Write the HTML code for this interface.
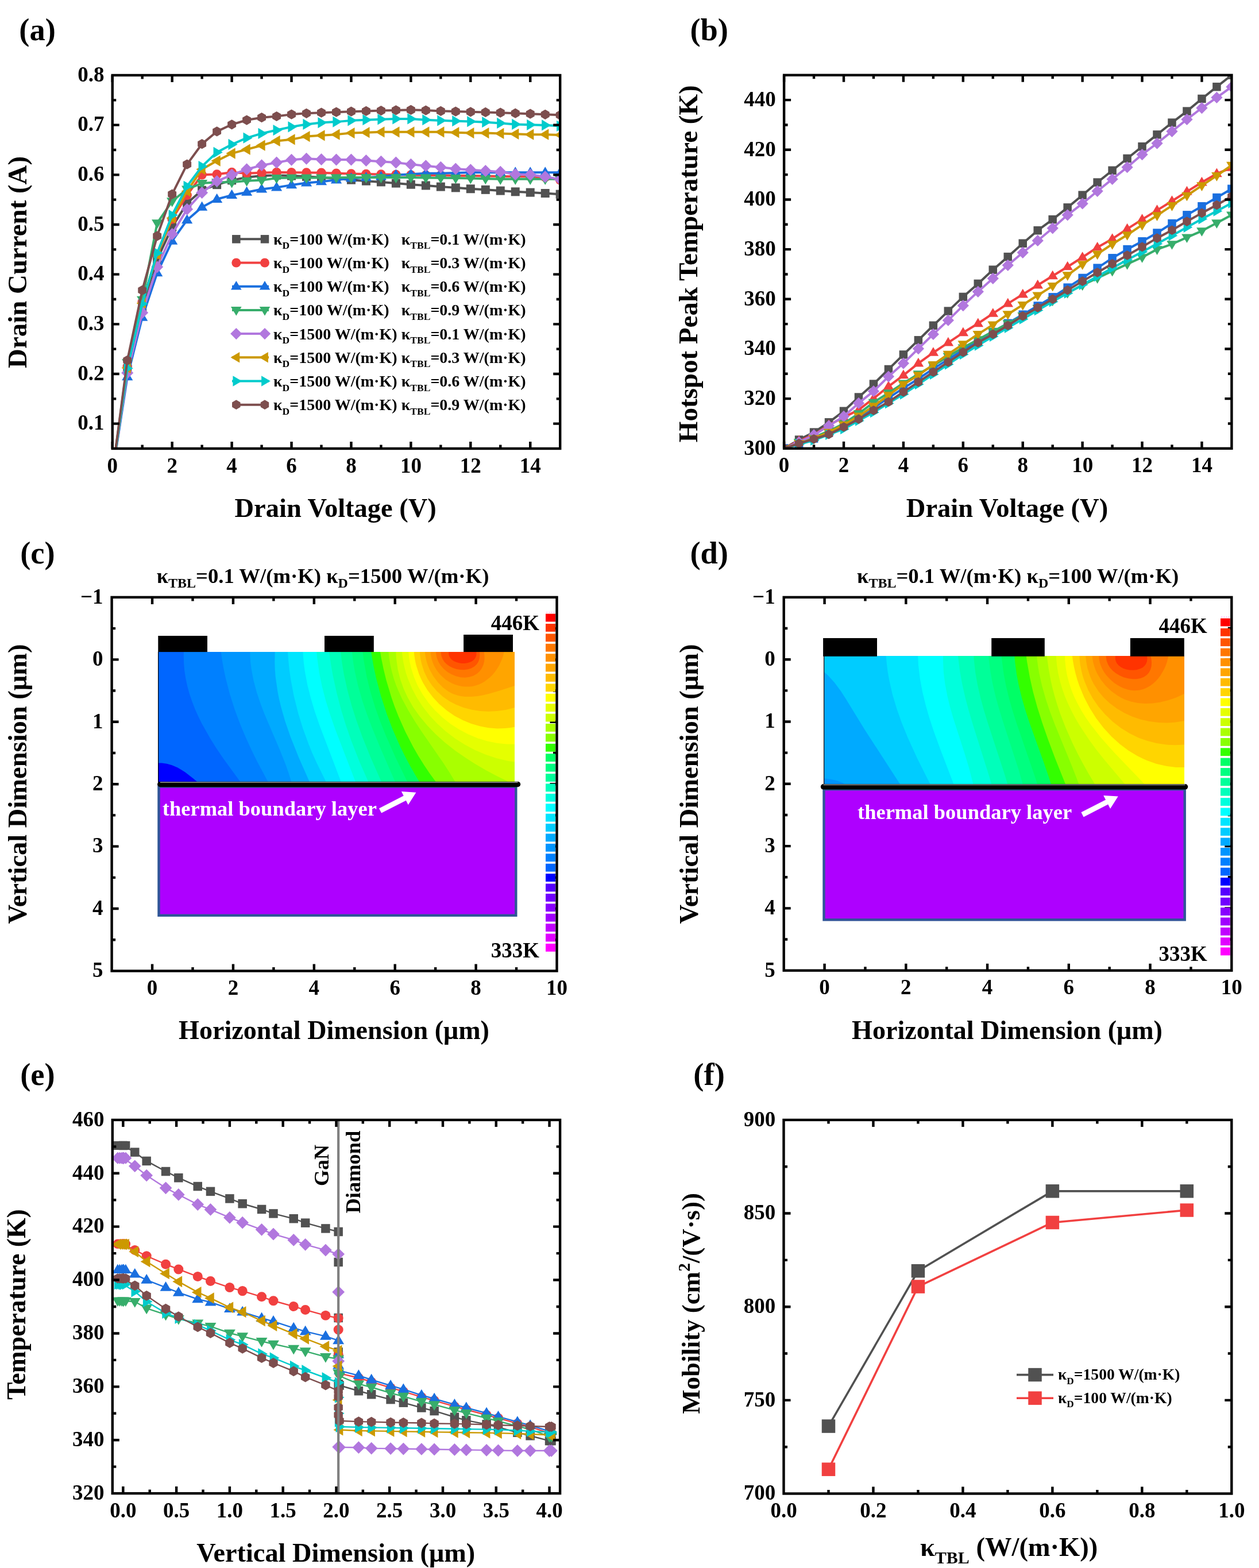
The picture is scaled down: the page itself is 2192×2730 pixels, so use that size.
<!DOCTYPE html><html><head><meta charset="utf-8"><title>Figure</title><style>html,body{margin:0;padding:0;background:#fff;}svg{display:block;}text{font-family:"Liberation Serif","Times New Roman",serif;font-weight:bold;}</style></head><body>
<svg width="2192" height="2730" viewBox="0 0 2192 2730">
<rect width="2192" height="2730" fill="#fff"/>
<clipPath id="clipA"><rect x="195.75" y="131" width="779.45" height="650"/></clipPath>
<g clip-path="url(#clipA)">
<polyline points="195.75,824.33 221.73,642.33 247.71,534 273.69,451.67 299.68,395.33 325.66,353.73 351.64,331.2 377.62,321.67 403.6,313.87 429.59,308.67 455.57,306.07 481.55,305.2 507.53,306.07 533.51,307.37 559.49,309.1 585.48,310.83 611.46,313.17 637.44,315.17 663.42,316.9 689.4,319.07 715.38,321.23 741.37,322.97 767.35,325.13 793.33,326.87 819.31,328.77 845.29,330.33 871.27,332.07 897.25,333.8 923.24,335.1 949.22,336.49 975.2,338.13" fill="none" stroke="#515151" stroke-width="4" stroke-linejoin="round"/>
<rect x="214.23" y="634.83" width="15" height="15" fill="#515151"/><rect x="240.21" y="526.5" width="15" height="15" fill="#515151"/><rect x="266.19" y="444.17" width="15" height="15" fill="#515151"/><rect x="292.18" y="387.83" width="15" height="15" fill="#515151"/><rect x="318.16" y="346.23" width="15" height="15" fill="#515151"/><rect x="344.14" y="323.7" width="15" height="15" fill="#515151"/><rect x="370.12" y="314.17" width="15" height="15" fill="#515151"/><rect x="396.1" y="306.37" width="15" height="15" fill="#515151"/><rect x="422.09" y="301.17" width="15" height="15" fill="#515151"/><rect x="448.07" y="298.57" width="15" height="15" fill="#515151"/><rect x="474.05" y="297.7" width="15" height="15" fill="#515151"/><rect x="500.03" y="298.57" width="15" height="15" fill="#515151"/><rect x="526.01" y="299.87" width="15" height="15" fill="#515151"/><rect x="551.99" y="301.6" width="15" height="15" fill="#515151"/><rect x="577.98" y="303.33" width="15" height="15" fill="#515151"/><rect x="603.96" y="305.67" width="15" height="15" fill="#515151"/><rect x="629.94" y="307.67" width="15" height="15" fill="#515151"/><rect x="655.92" y="309.4" width="15" height="15" fill="#515151"/><rect x="681.9" y="311.57" width="15" height="15" fill="#515151"/><rect x="707.88" y="313.73" width="15" height="15" fill="#515151"/><rect x="733.87" y="315.47" width="15" height="15" fill="#515151"/><rect x="759.85" y="317.63" width="15" height="15" fill="#515151"/><rect x="785.83" y="319.37" width="15" height="15" fill="#515151"/><rect x="811.81" y="321.27" width="15" height="15" fill="#515151"/><rect x="837.79" y="322.83" width="15" height="15" fill="#515151"/><rect x="863.77" y="324.57" width="15" height="15" fill="#515151"/><rect x="889.75" y="326.3" width="15" height="15" fill="#515151"/><rect x="915.74" y="327.6" width="15" height="15" fill="#515151"/><rect x="941.72" y="328.99" width="15" height="15" fill="#515151"/><rect x="967.7" y="330.63" width="15" height="15" fill="#515151"/>
<polyline points="195.75,824.33 221.73,638 247.71,525.33 273.69,443 299.68,381.47 325.66,339.87 351.64,304.33 377.62,303.47 403.6,300 429.59,301.73 455.57,300.87 481.55,300 507.53,300.35 533.51,300.61 559.49,300.87 585.48,301.73 611.46,302.6 637.44,303.03 663.42,303.47 689.4,304.07 715.38,304.68 741.37,304.94 767.35,305.2 793.33,305.63 819.31,306.07 845.29,306.5 871.27,306.93 897.25,307.24 923.24,307.54 949.22,308.67 975.2,313.35" fill="none" stroke="#F14040" stroke-width="4" stroke-linejoin="round"/>
<circle cx="221.73" cy="638" r="8.25" fill="#F14040"/><circle cx="247.71" cy="525.33" r="8.25" fill="#F14040"/><circle cx="273.69" cy="443" r="8.25" fill="#F14040"/><circle cx="299.68" cy="381.47" r="8.25" fill="#F14040"/><circle cx="325.66" cy="339.87" r="8.25" fill="#F14040"/><circle cx="351.64" cy="304.33" r="8.25" fill="#F14040"/><circle cx="377.62" cy="303.47" r="8.25" fill="#F14040"/><circle cx="403.6" cy="300" r="8.25" fill="#F14040"/><circle cx="429.59" cy="301.73" r="8.25" fill="#F14040"/><circle cx="455.57" cy="300.87" r="8.25" fill="#F14040"/><circle cx="481.55" cy="300" r="8.25" fill="#F14040"/><circle cx="507.53" cy="300.35" r="8.25" fill="#F14040"/><circle cx="533.51" cy="300.61" r="8.25" fill="#F14040"/><circle cx="559.49" cy="300.87" r="8.25" fill="#F14040"/><circle cx="585.48" cy="301.73" r="8.25" fill="#F14040"/><circle cx="611.46" cy="302.6" r="8.25" fill="#F14040"/><circle cx="637.44" cy="303.03" r="8.25" fill="#F14040"/><circle cx="663.42" cy="303.47" r="8.25" fill="#F14040"/><circle cx="689.4" cy="304.07" r="8.25" fill="#F14040"/><circle cx="715.38" cy="304.68" r="8.25" fill="#F14040"/><circle cx="741.37" cy="304.94" r="8.25" fill="#F14040"/><circle cx="767.35" cy="305.2" r="8.25" fill="#F14040"/><circle cx="793.33" cy="305.63" r="8.25" fill="#F14040"/><circle cx="819.31" cy="306.07" r="8.25" fill="#F14040"/><circle cx="845.29" cy="306.5" r="8.25" fill="#F14040"/><circle cx="871.27" cy="306.93" r="8.25" fill="#F14040"/><circle cx="897.25" cy="307.24" r="8.25" fill="#F14040"/><circle cx="923.24" cy="307.54" r="8.25" fill="#F14040"/><circle cx="949.22" cy="308.67" r="8.25" fill="#F14040"/><circle cx="975.2" cy="313.35" r="8.25" fill="#F14040"/>
<polyline points="195.75,824.33 221.73,656.2 247.71,552.63 273.69,475.07 299.68,419.6 325.66,383.2 351.64,360.67 377.62,346.8 403.6,339.87 429.59,334.67 455.57,329.47 481.55,326.35 507.53,322.1 533.51,318.55 559.49,316.29 585.48,313.35 611.46,310.49 637.44,309.1 663.42,307.54 689.4,304.68 715.38,303.21 741.37,301.73 767.35,301.73 793.33,301.04 819.31,300.35 845.29,300.35 871.27,300.35 897.25,300.35 923.24,300.35 949.22,300.35 975.2,300.35" fill="none" stroke="#1A6FDF" stroke-width="4" stroke-linejoin="round"/>
<polygon points="221.73,646.08 231.35,662.28 212.11,662.28" fill="#1A6FDF"/><polygon points="247.71,542.51 257.33,558.71 238.09,558.71" fill="#1A6FDF"/><polygon points="273.69,464.94 283.31,481.14 264.08,481.14" fill="#1A6FDF"/><polygon points="299.68,409.47 309.3,425.67 290.06,425.67" fill="#1A6FDF"/><polygon points="325.66,373.07 335.28,389.27 316.04,389.27" fill="#1A6FDF"/><polygon points="351.64,350.54 361.26,366.74 342.02,366.74" fill="#1A6FDF"/><polygon points="377.62,336.68 387.24,352.88 368,352.88" fill="#1A6FDF"/><polygon points="403.6,329.74 413.22,345.94 393.98,345.94" fill="#1A6FDF"/><polygon points="429.59,324.54 439.2,340.74 419.97,340.74" fill="#1A6FDF"/><polygon points="455.57,319.34 465.19,335.54 445.95,335.54" fill="#1A6FDF"/><polygon points="481.55,316.22 491.17,332.42 471.93,332.42" fill="#1A6FDF"/><polygon points="507.53,311.98 517.15,328.18 497.91,328.18" fill="#1A6FDF"/><polygon points="533.51,308.42 543.13,324.62 523.89,324.62" fill="#1A6FDF"/><polygon points="559.49,306.17 569.11,322.37 549.87,322.37" fill="#1A6FDF"/><polygon points="585.48,303.22 595.09,319.42 575.86,319.42" fill="#1A6FDF"/><polygon points="611.46,300.36 621.08,316.56 601.84,316.56" fill="#1A6FDF"/><polygon points="637.44,298.97 647.06,315.17 627.82,315.17" fill="#1A6FDF"/><polygon points="663.42,297.41 673.04,313.61 653.8,313.61" fill="#1A6FDF"/><polygon points="689.4,294.56 699.02,310.75 679.78,310.75" fill="#1A6FDF"/><polygon points="715.38,293.08 725,309.28 705.76,309.28" fill="#1A6FDF"/><polygon points="741.37,291.61 750.98,307.81 731.75,307.81" fill="#1A6FDF"/><polygon points="767.35,291.61 776.97,307.81 757.73,307.81" fill="#1A6FDF"/><polygon points="793.33,290.92 802.95,307.12 783.71,307.12" fill="#1A6FDF"/><polygon points="819.31,290.22 828.93,306.42 809.69,306.42" fill="#1A6FDF"/><polygon points="845.29,290.22 854.91,306.42 835.67,306.42" fill="#1A6FDF"/><polygon points="871.27,290.22 880.89,306.42 861.65,306.42" fill="#1A6FDF"/><polygon points="897.25,290.22 906.87,306.42 887.64,306.42" fill="#1A6FDF"/><polygon points="923.24,290.22 932.86,306.42 913.62,306.42" fill="#1A6FDF"/><polygon points="949.22,290.22 958.84,306.42 939.6,306.42" fill="#1A6FDF"/><polygon points="975.2,290.22 984.82,306.42 965.58,306.42" fill="#1A6FDF"/>
<polyline points="195.75,824.33 221.73,631.41 247.71,521.87 273.69,388.4 299.68,350.27 325.66,329.47 351.64,319.07 377.62,317.33 403.6,317.33 429.59,314.73 455.57,313.87 481.55,309.97 507.53,309.53 533.51,309.53 559.49,309.53 585.48,309.32 611.46,309.1 637.44,309.1 663.42,309.1 689.4,309.1 715.38,309.1 741.37,309.43 767.35,309.75 793.33,310.08 819.31,310.4 845.29,311.14 871.27,311.87 897.25,311.87 923.24,311.87 949.22,311.87 975.2,311.87" fill="none" stroke="#37AD6B" stroke-width="4" stroke-linejoin="round"/>
<polygon points="221.73,641.54 231.35,625.34 212.11,625.34" fill="#37AD6B"/><polygon points="247.71,531.99 257.33,515.79 238.09,515.79" fill="#37AD6B"/><polygon points="273.69,398.53 283.31,382.33 264.08,382.33" fill="#37AD6B"/><polygon points="299.68,360.39 309.3,344.19 290.06,344.19" fill="#37AD6B"/><polygon points="325.66,339.59 335.28,323.39 316.04,323.39" fill="#37AD6B"/><polygon points="351.64,329.19 361.26,312.99 342.02,312.99" fill="#37AD6B"/><polygon points="377.62,327.46 387.24,311.26 368,311.26" fill="#37AD6B"/><polygon points="403.6,327.46 413.22,311.26 393.98,311.26" fill="#37AD6B"/><polygon points="429.59,324.86 439.2,308.66 419.97,308.66" fill="#37AD6B"/><polygon points="455.57,323.99 465.19,307.79 445.95,307.79" fill="#37AD6B"/><polygon points="481.55,320.09 491.17,303.89 471.93,303.89" fill="#37AD6B"/><polygon points="507.53,319.66 517.15,303.46 497.91,303.46" fill="#37AD6B"/><polygon points="533.51,319.66 543.13,303.46 523.89,303.46" fill="#37AD6B"/><polygon points="559.49,319.66 569.11,303.46 549.87,303.46" fill="#37AD6B"/><polygon points="585.48,319.44 595.09,303.24 575.86,303.24" fill="#37AD6B"/><polygon points="611.46,319.22 621.08,303.02 601.84,303.02" fill="#37AD6B"/><polygon points="637.44,319.22 647.06,303.02 627.82,303.02" fill="#37AD6B"/><polygon points="663.42,319.22 673.04,303.02 653.8,303.02" fill="#37AD6B"/><polygon points="689.4,319.22 699.02,303.02 679.78,303.02" fill="#37AD6B"/><polygon points="715.38,319.22 725,303.02 705.76,303.02" fill="#37AD6B"/><polygon points="741.37,319.55 750.98,303.35 731.75,303.35" fill="#37AD6B"/><polygon points="767.35,319.88 776.97,303.68 757.73,303.68" fill="#37AD6B"/><polygon points="793.33,320.2 802.95,304 783.71,304" fill="#37AD6B"/><polygon points="819.31,320.53 828.93,304.33 809.69,304.33" fill="#37AD6B"/><polygon points="845.29,321.26 854.91,305.06 835.67,305.06" fill="#37AD6B"/><polygon points="871.27,322 880.89,305.8 861.65,305.8" fill="#37AD6B"/><polygon points="897.25,322 906.87,305.8 887.64,305.8" fill="#37AD6B"/><polygon points="923.24,322 932.86,305.8 913.62,305.8" fill="#37AD6B"/><polygon points="949.22,322 958.84,305.8 939.6,305.8" fill="#37AD6B"/><polygon points="975.2,322 984.82,305.8 965.58,305.8" fill="#37AD6B"/>
<polyline points="195.75,824.33 221.73,649.35 247.71,544.4 273.69,464.67 299.68,407.47 325.66,364.13 351.64,335.53 377.62,315.6 403.6,304.33 429.59,294.8 455.57,287.87 481.55,283.1 507.53,278.33 533.51,276.17 559.49,277.47 585.48,277.9 611.46,277.9 637.44,279.46 663.42,281.28 689.4,283.1 715.38,286.13 741.37,288.73 767.35,291.33 793.33,293.93 819.31,295.67 845.29,297.4 871.27,299.13 897.25,303.47 923.24,304.33 949.22,307.8 975.2,312.13" fill="none" stroke="#B177DE" stroke-width="4" stroke-linejoin="round"/>
<polygon points="221.73,638.85 232.23,649.35 221.73,659.85 211.23,649.35" fill="#B177DE"/><polygon points="247.71,533.9 258.21,544.4 247.71,554.9 237.21,544.4" fill="#B177DE"/><polygon points="273.69,454.17 284.19,464.67 273.69,475.17 263.19,464.67" fill="#B177DE"/><polygon points="299.68,396.97 310.18,407.47 299.68,417.97 289.18,407.47" fill="#B177DE"/><polygon points="325.66,353.63 336.16,364.13 325.66,374.63 315.16,364.13" fill="#B177DE"/><polygon points="351.64,325.03 362.14,335.53 351.64,346.03 341.14,335.53" fill="#B177DE"/><polygon points="377.62,305.1 388.12,315.6 377.62,326.1 367.12,315.6" fill="#B177DE"/><polygon points="403.6,293.83 414.1,304.33 403.6,314.83 393.1,304.33" fill="#B177DE"/><polygon points="429.59,284.3 440.09,294.8 429.59,305.3 419.09,294.8" fill="#B177DE"/><polygon points="455.57,277.37 466.07,287.87 455.57,298.37 445.07,287.87" fill="#B177DE"/><polygon points="481.55,272.6 492.05,283.1 481.55,293.6 471.05,283.1" fill="#B177DE"/><polygon points="507.53,267.83 518.03,278.33 507.53,288.83 497.03,278.33" fill="#B177DE"/><polygon points="533.51,265.67 544.01,276.17 533.51,286.67 523.01,276.17" fill="#B177DE"/><polygon points="559.49,266.97 569.99,277.47 559.49,287.97 548.99,277.47" fill="#B177DE"/><polygon points="585.48,267.4 595.98,277.9 585.48,288.4 574.98,277.9" fill="#B177DE"/><polygon points="611.46,267.4 621.96,277.9 611.46,288.4 600.96,277.9" fill="#B177DE"/><polygon points="637.44,268.96 647.94,279.46 637.44,289.96 626.94,279.46" fill="#B177DE"/><polygon points="663.42,270.78 673.92,281.28 663.42,291.78 652.92,281.28" fill="#B177DE"/><polygon points="689.4,272.6 699.9,283.1 689.4,293.6 678.9,283.1" fill="#B177DE"/><polygon points="715.38,275.63 725.88,286.13 715.38,296.63 704.88,286.13" fill="#B177DE"/><polygon points="741.37,278.23 751.87,288.73 741.37,299.23 730.87,288.73" fill="#B177DE"/><polygon points="767.35,280.83 777.85,291.33 767.35,301.83 756.85,291.33" fill="#B177DE"/><polygon points="793.33,283.43 803.83,293.93 793.33,304.43 782.83,293.93" fill="#B177DE"/><polygon points="819.31,285.17 829.81,295.67 819.31,306.17 808.81,295.67" fill="#B177DE"/><polygon points="845.29,286.9 855.79,297.4 845.29,307.9 834.79,297.4" fill="#B177DE"/><polygon points="871.27,288.63 881.77,299.13 871.27,309.63 860.77,299.13" fill="#B177DE"/><polygon points="897.25,292.97 907.75,303.47 897.25,313.97 886.75,303.47" fill="#B177DE"/><polygon points="923.24,293.83 933.74,304.33 923.24,314.83 912.74,304.33" fill="#B177DE"/><polygon points="949.22,297.3 959.72,307.8 949.22,318.3 938.72,307.8" fill="#B177DE"/><polygon points="975.2,301.63 985.7,312.13 975.2,322.63 964.7,312.13" fill="#B177DE"/>
<polyline points="195.75,824.33 221.73,640.6 247.71,527.93 273.69,443 299.68,379.73 325.66,332.93 351.64,294.8 377.62,280.07 403.6,267.07 429.59,260.13 455.57,253.2 481.55,245.4 507.53,242.8 533.51,237.6 559.49,235.87 585.48,234.13 611.46,231.53 637.44,230.67 663.42,229.8 689.4,229.8 715.38,229.8 741.37,229.8 767.35,229.8 793.33,230.67 819.31,231.53 845.29,231.53 871.27,232.4 897.25,233.27 923.24,234.13 949.22,234.13 975.2,235" fill="none" stroke="#CC9900" stroke-width="4" stroke-linejoin="round"/>
<polygon points="211.61,640.6 227.81,630.98 227.81,650.22" fill="#CC9900"/><polygon points="237.59,527.93 253.79,518.31 253.79,537.55" fill="#CC9900"/><polygon points="263.57,443 279.77,433.38 279.77,452.62" fill="#CC9900"/><polygon points="289.55,379.73 305.75,370.11 305.75,389.35" fill="#CC9900"/><polygon points="315.53,332.93 331.73,323.31 331.73,342.55" fill="#CC9900"/><polygon points="341.51,294.8 357.71,285.18 357.71,304.42" fill="#CC9900"/><polygon points="367.5,280.07 383.7,270.45 383.7,289.69" fill="#CC9900"/><polygon points="393.48,267.07 409.68,257.45 409.68,276.69" fill="#CC9900"/><polygon points="419.46,260.13 435.66,250.51 435.66,269.75" fill="#CC9900"/><polygon points="445.44,253.2 461.64,243.58 461.64,262.82" fill="#CC9900"/><polygon points="471.42,245.4 487.62,235.78 487.62,255.02" fill="#CC9900"/><polygon points="497.41,242.8 513.61,233.18 513.61,252.42" fill="#CC9900"/><polygon points="523.39,237.6 539.59,227.98 539.59,247.22" fill="#CC9900"/><polygon points="549.37,235.87 565.57,226.25 565.57,245.49" fill="#CC9900"/><polygon points="575.35,234.13 591.55,224.51 591.55,243.75" fill="#CC9900"/><polygon points="601.33,231.53 617.53,221.91 617.53,241.15" fill="#CC9900"/><polygon points="627.31,230.67 643.51,221.05 643.51,240.29" fill="#CC9900"/><polygon points="653.3,229.8 669.5,220.18 669.5,239.42" fill="#CC9900"/><polygon points="679.28,229.8 695.48,220.18 695.48,239.42" fill="#CC9900"/><polygon points="705.26,229.8 721.46,220.18 721.46,239.42" fill="#CC9900"/><polygon points="731.24,229.8 747.44,220.18 747.44,239.42" fill="#CC9900"/><polygon points="757.22,229.8 773.42,220.18 773.42,239.42" fill="#CC9900"/><polygon points="783.2,230.67 799.4,221.05 799.4,240.29" fill="#CC9900"/><polygon points="809.19,231.53 825.39,221.91 825.39,241.15" fill="#CC9900"/><polygon points="835.17,231.53 851.37,221.91 851.37,241.15" fill="#CC9900"/><polygon points="861.15,232.4 877.35,222.78 877.35,242.02" fill="#CC9900"/><polygon points="887.13,233.27 903.33,223.65 903.33,242.89" fill="#CC9900"/><polygon points="913.11,234.13 929.31,224.51 929.31,243.75" fill="#CC9900"/><polygon points="939.09,234.13 955.29,224.51 955.29,243.75" fill="#CC9900"/><polygon points="965.08,235 981.28,225.38 981.28,244.62" fill="#CC9900"/>
<polyline points="195.75,824.33 221.73,641.21 247.71,528.8 273.69,440.4 299.68,374.53 325.66,324.27 351.64,289.6 377.62,265.33 403.6,251.47 429.59,240.2 455.57,232.4 481.55,226.51 507.53,220.87 533.51,216.45 559.49,213.51 585.48,212.12 611.46,209.87 637.44,208.65 663.42,207.79 689.4,206.92 715.38,206.92 741.37,208.65 767.35,209.87 793.33,210.65 819.31,211.6 845.29,212.73 871.27,214.46 897.25,216.45 923.24,217.32 949.22,217.93 975.2,219.31" fill="none" stroke="#00CBCC" stroke-width="4" stroke-linejoin="round"/>
<polygon points="231.86,641.21 215.66,631.59 215.66,650.83" fill="#00CBCC"/><polygon points="257.84,528.8 241.64,519.18 241.64,538.42" fill="#00CBCC"/><polygon points="283.82,440.4 267.62,430.78 267.62,450.02" fill="#00CBCC"/><polygon points="309.8,374.53 293.6,364.91 293.6,384.15" fill="#00CBCC"/><polygon points="335.78,324.27 319.58,314.65 319.58,333.89" fill="#00CBCC"/><polygon points="361.76,289.6 345.56,279.98 345.56,299.22" fill="#00CBCC"/><polygon points="387.75,265.33 371.55,255.71 371.55,274.95" fill="#00CBCC"/><polygon points="413.73,251.47 397.53,241.85 397.53,261.09" fill="#00CBCC"/><polygon points="439.71,240.2 423.51,230.58 423.51,249.82" fill="#00CBCC"/><polygon points="465.69,232.4 449.49,222.78 449.49,242.02" fill="#00CBCC"/><polygon points="491.67,226.51 475.47,216.89 475.47,236.13" fill="#00CBCC"/><polygon points="517.65,220.87 501.46,211.25 501.46,230.49" fill="#00CBCC"/><polygon points="543.64,216.45 527.44,206.83 527.44,226.07" fill="#00CBCC"/><polygon points="569.62,213.51 553.42,203.89 553.42,223.13" fill="#00CBCC"/><polygon points="595.6,212.12 579.4,202.5 579.4,221.74" fill="#00CBCC"/><polygon points="621.58,209.87 605.38,200.25 605.38,219.49" fill="#00CBCC"/><polygon points="647.56,208.65 631.36,199.03 631.36,218.27" fill="#00CBCC"/><polygon points="673.55,207.79 657.35,198.17 657.35,217.41" fill="#00CBCC"/><polygon points="699.53,206.92 683.33,197.3 683.33,216.54" fill="#00CBCC"/><polygon points="725.51,206.92 709.31,197.3 709.31,216.54" fill="#00CBCC"/><polygon points="751.49,208.65 735.29,199.03 735.29,218.27" fill="#00CBCC"/><polygon points="777.47,209.87 761.27,200.25 761.27,219.49" fill="#00CBCC"/><polygon points="803.45,210.65 787.25,201.03 787.25,220.27" fill="#00CBCC"/><polygon points="829.44,211.6 813.24,201.98 813.24,221.22" fill="#00CBCC"/><polygon points="855.42,212.73 839.22,203.11 839.22,222.35" fill="#00CBCC"/><polygon points="881.4,214.46 865.2,204.84 865.2,224.08" fill="#00CBCC"/><polygon points="907.38,216.45 891.18,206.83 891.18,226.07" fill="#00CBCC"/><polygon points="933.36,217.32 917.16,207.7 917.16,226.94" fill="#00CBCC"/><polygon points="959.34,217.93 943.14,208.31 943.14,227.55" fill="#00CBCC"/><polygon points="985.33,219.31 969.12,209.69 969.12,228.93" fill="#00CBCC"/>
<polyline points="195.75,824.33 221.73,627.43 247.71,505.4 273.69,410.93 299.68,338.13 325.66,286.13 351.64,250.6 377.62,228.93 403.6,216.8 429.59,209 455.57,204.67 481.55,202.5 507.53,199.12 533.51,197.3 559.49,196.17 585.48,195.13 611.46,194.18 637.44,193.4 663.42,192.53 689.4,191.93 715.38,191.32 741.37,192.1 767.35,193.31 793.33,194.09 819.31,194.79 845.29,195.48 871.27,196.17 897.25,197.21 923.24,198.17 949.22,199.29 975.2,200.33" fill="none" stroke="#7D4E4E" stroke-width="4" stroke-linejoin="round"/>
<polygon points="229.2,631.74 221.73,636.05 214.26,631.74 214.26,623.11 221.73,618.8 229.2,623.11" fill="#7D4E4E"/><polygon points="255.18,509.71 247.71,514.02 240.24,509.71 240.24,501.09 247.71,496.77 255.18,501.09" fill="#7D4E4E"/><polygon points="281.16,415.25 273.69,419.56 266.23,415.25 266.23,406.62 273.69,402.31 281.16,406.62" fill="#7D4E4E"/><polygon points="307.15,342.45 299.68,346.76 292.21,342.45 292.21,333.82 299.68,329.51 307.15,333.82" fill="#7D4E4E"/><polygon points="333.13,290.45 325.66,294.76 318.19,290.45 318.19,281.82 325.66,277.51 333.13,281.82" fill="#7D4E4E"/><polygon points="359.11,254.91 351.64,259.23 344.17,254.91 344.17,246.29 351.64,241.98 359.11,246.29" fill="#7D4E4E"/><polygon points="385.09,233.25 377.62,237.56 370.15,233.25 370.15,224.62 377.62,220.31 385.09,224.62" fill="#7D4E4E"/><polygon points="411.07,221.11 403.6,225.43 396.13,221.11 396.13,212.49 403.6,208.18 411.07,212.49" fill="#7D4E4E"/><polygon points="437.05,213.31 429.59,217.63 422.12,213.31 422.12,204.69 429.59,200.38 437.05,204.69" fill="#7D4E4E"/><polygon points="463.04,208.98 455.57,213.29 448.1,208.98 448.1,200.35 455.57,196.04 463.04,200.35" fill="#7D4E4E"/><polygon points="489.02,206.81 481.55,211.12 474.08,206.81 474.08,198.19 481.55,193.88 489.02,198.19" fill="#7D4E4E"/><polygon points="515,203.43 507.53,207.75 500.06,203.43 500.06,194.81 507.53,190.5 515,194.81" fill="#7D4E4E"/><polygon points="540.98,201.61 533.51,205.93 526.04,201.61 526.04,192.99 533.51,188.68 540.98,192.99" fill="#7D4E4E"/><polygon points="566.96,200.49 559.49,204.8 552.02,200.49 552.02,191.86 559.49,187.55 566.96,191.86" fill="#7D4E4E"/><polygon points="592.94,199.45 585.48,203.76 578.01,199.45 578.01,190.82 585.48,186.51 592.94,190.82" fill="#7D4E4E"/><polygon points="618.93,198.49 611.46,202.81 603.99,198.49 603.99,189.87 611.46,185.56 618.93,189.87" fill="#7D4E4E"/><polygon points="644.91,197.71 637.44,202.03 629.97,197.71 629.97,189.09 637.44,184.78 644.91,189.09" fill="#7D4E4E"/><polygon points="670.89,196.85 663.42,201.16 655.95,196.85 655.95,188.22 663.42,183.91 670.89,188.22" fill="#7D4E4E"/><polygon points="696.87,196.24 689.4,200.55 681.93,196.24 681.93,187.61 689.4,183.3 696.87,187.61" fill="#7D4E4E"/><polygon points="722.85,195.63 715.38,199.95 707.91,195.63 707.91,187.01 715.38,182.7 722.85,187.01" fill="#7D4E4E"/><polygon points="748.83,196.41 741.37,200.73 733.9,196.41 733.9,187.79 741.37,183.48 748.83,187.79" fill="#7D4E4E"/><polygon points="774.82,197.63 767.35,201.94 759.88,197.63 759.88,189 767.35,184.69 774.82,189" fill="#7D4E4E"/><polygon points="800.8,198.41 793.33,202.72 785.86,198.41 785.86,189.78 793.33,185.47 800.8,189.78" fill="#7D4E4E"/><polygon points="826.78,199.1 819.31,203.41 811.84,199.1 811.84,190.47 819.31,186.16 826.78,190.47" fill="#7D4E4E"/><polygon points="852.76,199.79 845.29,204.11 837.82,199.79 837.82,191.17 845.29,186.86 852.76,191.17" fill="#7D4E4E"/><polygon points="878.74,200.49 871.27,204.8 863.8,200.49 863.8,191.86 871.27,187.55 878.74,191.86" fill="#7D4E4E"/><polygon points="904.72,201.53 897.25,205.84 889.79,201.53 889.79,192.9 897.25,188.59 904.72,192.9" fill="#7D4E4E"/><polygon points="930.71,202.48 923.24,206.79 915.77,202.48 915.77,193.85 923.24,189.54 930.71,193.85" fill="#7D4E4E"/><polygon points="956.69,203.61 949.22,207.92 941.75,203.61 941.75,194.98 949.22,190.67 956.69,194.98" fill="#7D4E4E"/><polygon points="982.67,204.65 975.2,208.96 967.73,204.65 967.73,196.02 975.2,191.71 982.67,196.02" fill="#7D4E4E"/>
</g>
<rect x="195.75" y="131" width="779.45" height="650" fill="none" stroke="#000" stroke-width="4.4"/>
<path d="M195.75 781V769M195.75 131V143M299.68 781V769M299.68 131V143M403.6 781V769M403.6 131V143M507.53 781V769M507.53 131V143M611.46 781V769M611.46 131V143M715.38 781V769M715.38 131V143M819.31 781V769M819.31 131V143M923.24 781V769M923.24 131V143M247.71 781V774.5M247.71 131V137.5M351.64 781V774.5M351.64 131V137.5M455.57 781V774.5M455.57 131V137.5M559.49 781V774.5M559.49 131V137.5M663.42 781V774.5M663.42 131V137.5M767.35 781V774.5M767.35 131V137.5M871.27 781V774.5M871.27 131V137.5M195.75 737.67H207.75M975.2 737.67H963.2M195.75 651H207.75M975.2 651H963.2M195.75 564.33H207.75M975.2 564.33H963.2M195.75 477.67H207.75M975.2 477.67H963.2M195.75 391H207.75M975.2 391H963.2M195.75 304.33H207.75M975.2 304.33H963.2M195.75 217.67H207.75M975.2 217.67H963.2M195.75 694.33H202.25M975.2 694.33H968.7M195.75 607.67H202.25M975.2 607.67H968.7M195.75 521H202.25M975.2 521H968.7M195.75 434.33H202.25M975.2 434.33H968.7M195.75 347.67H202.25M975.2 347.67H968.7M195.75 261H202.25M975.2 261H968.7M195.75 174.33H202.25M975.2 174.33H968.7" stroke="#000" stroke-width="4.4" fill="none"/>
<text x="195.75" y="822.5" font-size="37" text-anchor="middle">0</text>
<text x="299.68" y="822.5" font-size="37" text-anchor="middle">2</text>
<text x="403.6" y="822.5" font-size="37" text-anchor="middle">4</text>
<text x="507.53" y="822.5" font-size="37" text-anchor="middle">6</text>
<text x="611.46" y="822.5" font-size="37" text-anchor="middle">8</text>
<text x="715.38" y="822.5" font-size="37" text-anchor="middle">10</text>
<text x="819.31" y="822.5" font-size="37" text-anchor="middle">12</text>
<text x="923.24" y="822.5" font-size="37" text-anchor="middle">14</text>
<text x="181.45" y="748.47" font-size="37" text-anchor="end">0.1</text>
<text x="181.45" y="661.8" font-size="37" text-anchor="end">0.2</text>
<text x="181.45" y="575.13" font-size="37" text-anchor="end">0.3</text>
<text x="181.45" y="488.47" font-size="37" text-anchor="end">0.4</text>
<text x="181.45" y="401.8" font-size="37" text-anchor="end">0.5</text>
<text x="181.45" y="315.13" font-size="37" text-anchor="end">0.6</text>
<text x="181.45" y="228.47" font-size="37" text-anchor="end">0.7</text>
<text x="181.45" y="141.8" font-size="37" text-anchor="end">0.8</text>
<text x="584.2" y="899.5" font-size="46.5" text-anchor="middle">Drain Voltage (V)</text>
<text x="45.6" y="456.4" font-size="46.9" text-anchor="middle" transform="rotate(-90 45.6 456.4)">Drain Current (A)</text>
<text x="65.1" y="70.4" font-size="54.5" text-anchor="middle">(a)</text>
<line x1="404" y1="416.3" x2="468" y2="416.3" stroke="#515151" stroke-width="4"/>
<rect x="404.05" y="409.05" width="14.5" height="14.5" fill="#515151"/><rect x="453.75" y="409.05" width="14.5" height="14.5" fill="#515151"/>
<text x="476" y="425.7" font-size="28">κ<tspan font-size="17.5" dy="7.7">D</tspan><tspan dy="-7.7">=100 W/(m·K)</tspan></text>
<text x="698.8" y="425.7" font-size="28">κ<tspan font-size="17.5" dy="7.7">TBL</tspan><tspan dy="-7.7">=0.1 W/(m·K)</tspan></text>
<line x1="404" y1="457.5" x2="468" y2="457.5" stroke="#F14040" stroke-width="4"/>
<circle cx="411.3" cy="457.5" r="7.98" fill="#F14040"/><circle cx="461" cy="457.5" r="7.98" fill="#F14040"/>
<text x="476" y="466.9" font-size="28">κ<tspan font-size="17.5" dy="7.7">D</tspan><tspan dy="-7.7">=100 W/(m·K)</tspan></text>
<text x="698.8" y="466.9" font-size="28">κ<tspan font-size="17.5" dy="7.7">TBL</tspan><tspan dy="-7.7">=0.3 W/(m·K)</tspan></text>
<line x1="404" y1="498.7" x2="468" y2="498.7" stroke="#1A6FDF" stroke-width="4"/>
<polygon points="411.3,488.91 420.6,504.57 402,504.57" fill="#1A6FDF"/><polygon points="461,488.91 470.3,504.57 451.7,504.57" fill="#1A6FDF"/>
<text x="476" y="508.1" font-size="28">κ<tspan font-size="17.5" dy="7.7">D</tspan><tspan dy="-7.7">=100 W/(m·K)</tspan></text>
<text x="698.8" y="508.1" font-size="28">κ<tspan font-size="17.5" dy="7.7">TBL</tspan><tspan dy="-7.7">=0.6 W/(m·K)</tspan></text>
<line x1="404" y1="539.9" x2="468" y2="539.9" stroke="#37AD6B" stroke-width="4"/>
<polygon points="411.3,549.69 420.6,534.03 402,534.03" fill="#37AD6B"/><polygon points="461,549.69 470.3,534.03 451.7,534.03" fill="#37AD6B"/>
<text x="476" y="549.3" font-size="28">κ<tspan font-size="17.5" dy="7.7">D</tspan><tspan dy="-7.7">=100 W/(m·K)</tspan></text>
<text x="698.8" y="549.3" font-size="28">κ<tspan font-size="17.5" dy="7.7">TBL</tspan><tspan dy="-7.7">=0.9 W/(m·K)</tspan></text>
<line x1="404" y1="581.1" x2="468" y2="581.1" stroke="#B177DE" stroke-width="4"/>
<polygon points="411.3,570.95 421.45,581.1 411.3,591.25 401.15,581.1" fill="#B177DE"/><polygon points="461,570.95 471.15,581.1 461,591.25 450.85,581.1" fill="#B177DE"/>
<text x="476" y="590.5" font-size="28">κ<tspan font-size="17.5" dy="7.7">D</tspan><tspan dy="-7.7">=1500 W/(m·K)</tspan></text>
<text x="698.8" y="590.5" font-size="28">κ<tspan font-size="17.5" dy="7.7">TBL</tspan><tspan dy="-7.7">=0.1 W/(m·K)</tspan></text>
<line x1="404" y1="622.3" x2="468" y2="622.3" stroke="#CC9900" stroke-width="4"/>
<polygon points="401.51,622.3 417.17,613 417.17,631.6" fill="#CC9900"/><polygon points="451.21,622.3 466.87,613 466.87,631.6" fill="#CC9900"/>
<text x="476" y="631.7" font-size="28">κ<tspan font-size="17.5" dy="7.7">D</tspan><tspan dy="-7.7">=1500 W/(m·K)</tspan></text>
<text x="698.8" y="631.7" font-size="28">κ<tspan font-size="17.5" dy="7.7">TBL</tspan><tspan dy="-7.7">=0.3 W/(m·K)</tspan></text>
<line x1="404" y1="663.5" x2="468" y2="663.5" stroke="#00CBCC" stroke-width="4"/>
<polygon points="421.09,663.5 405.43,654.2 405.43,672.8" fill="#00CBCC"/><polygon points="470.79,663.5 455.13,654.2 455.13,672.8" fill="#00CBCC"/>
<text x="476" y="672.9" font-size="28">κ<tspan font-size="17.5" dy="7.7">D</tspan><tspan dy="-7.7">=1500 W/(m·K)</tspan></text>
<text x="698.8" y="672.9" font-size="28">κ<tspan font-size="17.5" dy="7.7">TBL</tspan><tspan dy="-7.7">=0.6 W/(m·K)</tspan></text>
<line x1="404" y1="704.7" x2="468" y2="704.7" stroke="#7D4E4E" stroke-width="4"/>
<polygon points="418.52,708.87 411.3,713.04 404.08,708.87 404.08,700.53 411.3,696.36 418.52,700.53" fill="#7D4E4E"/><polygon points="468.22,708.87 461,713.04 453.78,708.87 453.78,700.53 461,696.36 468.22,700.53" fill="#7D4E4E"/>
<text x="476" y="714.1" font-size="28">κ<tspan font-size="17.5" dy="7.7">D</tspan><tspan dy="-7.7">=1500 W/(m·K)</tspan></text>
<text x="698.8" y="714.1" font-size="28">κ<tspan font-size="17.5" dy="7.7">TBL</tspan><tspan dy="-7.7">=0.9 W/(m·K)</tspan></text>
<clipPath id="clipB"><rect x="1365.1" y="130.8" width="779.3" height="650"/></clipPath>
<g clip-path="url(#clipB)">
<polyline points="1365.1,780.8 1391.08,765.63 1417.05,752.63 1443.03,735.3 1469.01,715.8 1494.98,691.53 1520.96,668.57 1546.94,643 1572.91,617.43 1598.89,592.3 1624.87,566.73 1650.84,541.6 1676.82,516.9 1702.8,493.93 1728.77,469.67 1754.75,447.13 1780.73,423.73 1806.7,401.2 1832.68,382.13 1858.66,361.33 1884.63,339.67 1910.61,317.57 1936.59,296.77 1962.56,275.97 1988.54,255.17 2014.52,234.37 2040.49,213.57 2066.47,193.63 2092.45,171.97 2118.42,151.17 2144.4,130.8" fill="none" stroke="#515151" stroke-width="4" stroke-linejoin="round"/>
<rect x="1357.85" y="773.55" width="14.5" height="14.5" fill="#515151"/><rect x="1383.83" y="758.38" width="14.5" height="14.5" fill="#515151"/><rect x="1409.8" y="745.38" width="14.5" height="14.5" fill="#515151"/><rect x="1435.78" y="728.05" width="14.5" height="14.5" fill="#515151"/><rect x="1461.76" y="708.55" width="14.5" height="14.5" fill="#515151"/><rect x="1487.73" y="684.28" width="14.5" height="14.5" fill="#515151"/><rect x="1513.71" y="661.32" width="14.5" height="14.5" fill="#515151"/><rect x="1539.69" y="635.75" width="14.5" height="14.5" fill="#515151"/><rect x="1565.66" y="610.18" width="14.5" height="14.5" fill="#515151"/><rect x="1591.64" y="585.05" width="14.5" height="14.5" fill="#515151"/><rect x="1617.62" y="559.48" width="14.5" height="14.5" fill="#515151"/><rect x="1643.59" y="534.35" width="14.5" height="14.5" fill="#515151"/><rect x="1669.57" y="509.65" width="14.5" height="14.5" fill="#515151"/><rect x="1695.55" y="486.68" width="14.5" height="14.5" fill="#515151"/><rect x="1721.52" y="462.42" width="14.5" height="14.5" fill="#515151"/><rect x="1747.5" y="439.88" width="14.5" height="14.5" fill="#515151"/><rect x="1773.48" y="416.48" width="14.5" height="14.5" fill="#515151"/><rect x="1799.45" y="393.95" width="14.5" height="14.5" fill="#515151"/><rect x="1825.43" y="374.88" width="14.5" height="14.5" fill="#515151"/><rect x="1851.41" y="354.08" width="14.5" height="14.5" fill="#515151"/><rect x="1877.38" y="332.42" width="14.5" height="14.5" fill="#515151"/><rect x="1903.36" y="310.32" width="14.5" height="14.5" fill="#515151"/><rect x="1929.34" y="289.52" width="14.5" height="14.5" fill="#515151"/><rect x="1955.31" y="268.72" width="14.5" height="14.5" fill="#515151"/><rect x="1981.29" y="247.92" width="14.5" height="14.5" fill="#515151"/><rect x="2007.27" y="227.12" width="14.5" height="14.5" fill="#515151"/><rect x="2033.24" y="206.32" width="14.5" height="14.5" fill="#515151"/><rect x="2059.22" y="186.38" width="14.5" height="14.5" fill="#515151"/><rect x="2085.2" y="164.72" width="14.5" height="14.5" fill="#515151"/><rect x="2111.17" y="143.92" width="14.5" height="14.5" fill="#515151"/><rect x="2137.15" y="123.55" width="14.5" height="14.5" fill="#515151"/>
<polyline points="1365.1,780.8 1391.08,767.8 1417.05,756.97 1443.03,740.07 1469.01,726.63 1494.98,713.63 1520.96,693.7 1546.94,672.9 1572.91,653.4 1598.89,632.6 1624.87,613.97 1650.84,596.63 1676.82,579.3 1702.8,563.27 1728.77,545.93 1754.75,528.6 1780.73,512.57 1806.7,496.53 1832.68,480.5 1858.66,464.47 1884.63,448 1910.61,430.67 1936.59,415.93 1962.56,398.6 1988.54,382.13 2014.52,366.1 2040.49,350.07 2066.47,333.6 2092.45,317.57 2118.42,302.4 2144.4,292" fill="none" stroke="#F14040" stroke-width="4" stroke-linejoin="round"/>
<polygon points="1365.1,771.01 1374.4,786.67 1355.8,786.67" fill="#F14040"/><polygon points="1391.08,758.01 1400.37,773.67 1381.78,773.67" fill="#F14040"/><polygon points="1417.05,747.18 1426.35,762.84 1407.76,762.84" fill="#F14040"/><polygon points="1443.03,730.28 1452.33,745.94 1433.73,745.94" fill="#F14040"/><polygon points="1469.01,716.85 1478.3,732.51 1459.71,732.51" fill="#F14040"/><polygon points="1494.98,703.85 1504.28,719.51 1485.69,719.51" fill="#F14040"/><polygon points="1520.96,683.91 1530.26,699.57 1511.66,699.57" fill="#F14040"/><polygon points="1546.94,663.11 1556.23,678.77 1537.64,678.77" fill="#F14040"/><polygon points="1572.91,643.61 1582.21,659.27 1563.62,659.27" fill="#F14040"/><polygon points="1598.89,622.81 1608.19,638.47 1589.59,638.47" fill="#F14040"/><polygon points="1624.87,604.18 1634.16,619.84 1615.57,619.84" fill="#F14040"/><polygon points="1650.84,586.85 1660.14,602.51 1641.55,602.51" fill="#F14040"/><polygon points="1676.82,569.51 1686.12,585.17 1667.52,585.17" fill="#F14040"/><polygon points="1702.8,553.48 1712.09,569.14 1693.5,569.14" fill="#F14040"/><polygon points="1728.77,536.15 1738.07,551.81 1719.48,551.81" fill="#F14040"/><polygon points="1754.75,518.81 1764.05,534.47 1745.45,534.47" fill="#F14040"/><polygon points="1780.73,502.78 1790.02,518.44 1771.43,518.44" fill="#F14040"/><polygon points="1806.7,486.75 1816,502.41 1797.41,502.41" fill="#F14040"/><polygon points="1832.68,470.71 1841.98,486.37 1823.38,486.37" fill="#F14040"/><polygon points="1858.66,454.68 1867.95,470.34 1849.36,470.34" fill="#F14040"/><polygon points="1884.63,438.21 1893.93,453.87 1875.34,453.87" fill="#F14040"/><polygon points="1910.61,420.88 1919.91,436.54 1901.31,436.54" fill="#F14040"/><polygon points="1936.59,406.15 1945.88,421.81 1927.29,421.81" fill="#F14040"/><polygon points="1962.56,388.81 1971.86,404.47 1953.27,404.47" fill="#F14040"/><polygon points="1988.54,372.35 1997.84,388.01 1979.24,388.01" fill="#F14040"/><polygon points="2014.52,356.31 2023.81,371.97 2005.22,371.97" fill="#F14040"/><polygon points="2040.49,340.28 2049.79,355.94 2031.2,355.94" fill="#F14040"/><polygon points="2066.47,323.81 2075.77,339.47 2057.17,339.47" fill="#F14040"/><polygon points="2092.45,307.78 2101.74,323.44 2083.15,323.44" fill="#F14040"/><polygon points="2118.42,292.61 2127.72,308.27 2109.13,308.27" fill="#F14040"/><polygon points="2144.4,282.21 2153.7,297.87 2135.1,297.87" fill="#F14040"/>
<polyline points="1365.1,780.8 1391.08,772.13 1417.05,763.47 1443.03,753.5 1469.01,741.8 1494.98,726.63 1520.96,710.17 1546.94,692.83 1572.91,675.93 1598.89,659.47 1624.87,642.13 1650.84,625.67 1676.82,609.2 1702.8,593.6 1728.77,578 1754.75,562.83 1780.73,547.67 1806.7,532.5 1832.68,517.33 1858.66,500.65 1884.63,483.97 1910.61,466.63 1936.59,449.3 1962.56,434.13 1988.54,420.27 2014.52,405.53 2040.49,389.07 2066.47,374.33 2092.45,359.17 2118.42,344 2144.4,328.83" fill="none" stroke="#1A6FDF" stroke-width="4" stroke-linejoin="round"/>
<rect x="1357.85" y="773.55" width="14.5" height="14.5" fill="#1A6FDF"/><rect x="1383.83" y="764.88" width="14.5" height="14.5" fill="#1A6FDF"/><rect x="1409.8" y="756.22" width="14.5" height="14.5" fill="#1A6FDF"/><rect x="1435.78" y="746.25" width="14.5" height="14.5" fill="#1A6FDF"/><rect x="1461.76" y="734.55" width="14.5" height="14.5" fill="#1A6FDF"/><rect x="1487.73" y="719.38" width="14.5" height="14.5" fill="#1A6FDF"/><rect x="1513.71" y="702.92" width="14.5" height="14.5" fill="#1A6FDF"/><rect x="1539.69" y="685.58" width="14.5" height="14.5" fill="#1A6FDF"/><rect x="1565.66" y="668.68" width="14.5" height="14.5" fill="#1A6FDF"/><rect x="1591.64" y="652.22" width="14.5" height="14.5" fill="#1A6FDF"/><rect x="1617.62" y="634.88" width="14.5" height="14.5" fill="#1A6FDF"/><rect x="1643.59" y="618.42" width="14.5" height="14.5" fill="#1A6FDF"/><rect x="1669.57" y="601.95" width="14.5" height="14.5" fill="#1A6FDF"/><rect x="1695.55" y="586.35" width="14.5" height="14.5" fill="#1A6FDF"/><rect x="1721.52" y="570.75" width="14.5" height="14.5" fill="#1A6FDF"/><rect x="1747.5" y="555.58" width="14.5" height="14.5" fill="#1A6FDF"/><rect x="1773.48" y="540.42" width="14.5" height="14.5" fill="#1A6FDF"/><rect x="1799.45" y="525.25" width="14.5" height="14.5" fill="#1A6FDF"/><rect x="1825.43" y="510.08" width="14.5" height="14.5" fill="#1A6FDF"/><rect x="1851.41" y="493.4" width="14.5" height="14.5" fill="#1A6FDF"/><rect x="1877.38" y="476.72" width="14.5" height="14.5" fill="#1A6FDF"/><rect x="1903.36" y="459.38" width="14.5" height="14.5" fill="#1A6FDF"/><rect x="1929.34" y="442.05" width="14.5" height="14.5" fill="#1A6FDF"/><rect x="1955.31" y="426.88" width="14.5" height="14.5" fill="#1A6FDF"/><rect x="1981.29" y="413.02" width="14.5" height="14.5" fill="#1A6FDF"/><rect x="2007.27" y="398.28" width="14.5" height="14.5" fill="#1A6FDF"/><rect x="2033.24" y="381.82" width="14.5" height="14.5" fill="#1A6FDF"/><rect x="2059.22" y="367.08" width="14.5" height="14.5" fill="#1A6FDF"/><rect x="2085.2" y="351.92" width="14.5" height="14.5" fill="#1A6FDF"/><rect x="2111.17" y="336.75" width="14.5" height="14.5" fill="#1A6FDF"/><rect x="2137.15" y="321.58" width="14.5" height="14.5" fill="#1A6FDF"/>
<polyline points="1365.1,780.8 1391.08,769.97 1417.05,761.3 1443.03,750.47 1469.01,737.47 1494.98,720.13 1520.96,700.63 1546.94,684.17 1572.91,667.27 1598.89,651.23 1624.87,636.5 1650.84,620.47 1676.82,605.3 1702.8,591.22 1728.77,577.13 1754.75,563.48 1780.73,549.83 1806.7,536.62 1832.68,523.4 1858.66,509.97 1884.63,496.53 1910.61,484.18 1936.59,471.83 1962.56,459.92 1988.54,448 2014.52,434.13 2040.49,425.03 2066.47,413.33 2092.45,402.07 2118.42,388.2 2144.4,374.33" fill="none" stroke="#37AD6B" stroke-width="4" stroke-linejoin="round"/>
<polygon points="1365.1,790.59 1374.4,774.93 1355.8,774.93" fill="#37AD6B"/><polygon points="1391.08,779.75 1400.37,764.09 1381.78,764.09" fill="#37AD6B"/><polygon points="1417.05,771.09 1426.35,755.43 1407.76,755.43" fill="#37AD6B"/><polygon points="1443.03,760.25 1452.33,744.59 1433.73,744.59" fill="#37AD6B"/><polygon points="1469.01,747.25 1478.3,731.59 1459.71,731.59" fill="#37AD6B"/><polygon points="1494.98,729.92 1504.28,714.26 1485.69,714.26" fill="#37AD6B"/><polygon points="1520.96,710.42 1530.26,694.76 1511.66,694.76" fill="#37AD6B"/><polygon points="1546.94,693.95 1556.23,678.29 1537.64,678.29" fill="#37AD6B"/><polygon points="1572.91,677.05 1582.21,661.39 1563.62,661.39" fill="#37AD6B"/><polygon points="1598.89,661.02 1608.19,645.36 1589.59,645.36" fill="#37AD6B"/><polygon points="1624.87,646.29 1634.16,630.63 1615.57,630.63" fill="#37AD6B"/><polygon points="1650.84,630.25 1660.14,614.59 1641.55,614.59" fill="#37AD6B"/><polygon points="1676.82,615.09 1686.12,599.43 1667.52,599.43" fill="#37AD6B"/><polygon points="1702.8,601 1712.09,585.34 1693.5,585.34" fill="#37AD6B"/><polygon points="1728.77,586.92 1738.07,571.26 1719.48,571.26" fill="#37AD6B"/><polygon points="1754.75,573.27 1764.05,557.61 1745.45,557.61" fill="#37AD6B"/><polygon points="1780.73,559.62 1790.02,543.96 1771.43,543.96" fill="#37AD6B"/><polygon points="1806.7,546.4 1816,530.74 1797.41,530.74" fill="#37AD6B"/><polygon points="1832.68,533.19 1841.98,517.53 1823.38,517.53" fill="#37AD6B"/><polygon points="1858.66,519.75 1867.95,504.09 1849.36,504.09" fill="#37AD6B"/><polygon points="1884.63,506.32 1893.93,490.66 1875.34,490.66" fill="#37AD6B"/><polygon points="1910.61,493.97 1919.91,478.31 1901.31,478.31" fill="#37AD6B"/><polygon points="1936.59,481.62 1945.88,465.96 1927.29,465.96" fill="#37AD6B"/><polygon points="1962.56,469.7 1971.86,454.04 1953.27,454.04" fill="#37AD6B"/><polygon points="1988.54,457.79 1997.84,442.13 1979.24,442.13" fill="#37AD6B"/><polygon points="2014.52,443.92 2023.81,428.26 2005.22,428.26" fill="#37AD6B"/><polygon points="2040.49,434.82 2049.79,419.16 2031.2,419.16" fill="#37AD6B"/><polygon points="2066.47,423.12 2075.77,407.46 2057.17,407.46" fill="#37AD6B"/><polygon points="2092.45,411.85 2101.74,396.19 2083.15,396.19" fill="#37AD6B"/><polygon points="2118.42,397.99 2127.72,382.33 2109.13,382.33" fill="#37AD6B"/><polygon points="2144.4,384.12 2153.7,368.46 2135.1,368.46" fill="#37AD6B"/>
<polyline points="1365.1,780.8 1391.08,769.97 1417.05,757.4 1443.03,741.37 1469.01,724.9 1494.98,701.93 1520.96,681.13 1546.94,655.57 1572.91,632.6 1598.89,607.03 1624.87,581.9 1650.84,557.63 1676.82,532.07 1702.8,507.8 1728.77,484.83 1754.75,461.87 1780.73,439.77 1806.7,418.97 1832.68,397.3 1858.66,374.33 1884.63,354.4 1910.61,332.73 1936.59,311.93 1962.56,291.13 1988.54,269.03 2014.52,249.53 2040.49,228.73 2066.47,207.93 2092.45,188 2118.42,169.8 2144.4,151.17" fill="none" stroke="#B177DE" stroke-width="4" stroke-linejoin="round"/>
<polygon points="1365.1,770.65 1375.25,780.8 1365.1,790.95 1354.95,780.8" fill="#B177DE"/><polygon points="1391.08,759.82 1401.23,769.97 1391.08,780.12 1380.93,769.97" fill="#B177DE"/><polygon points="1417.05,747.25 1427.2,757.4 1417.05,767.55 1406.9,757.4" fill="#B177DE"/><polygon points="1443.03,731.22 1453.18,741.37 1443.03,751.52 1432.88,741.37" fill="#B177DE"/><polygon points="1469.01,714.75 1479.16,724.9 1469.01,735.05 1458.86,724.9" fill="#B177DE"/><polygon points="1494.98,691.78 1505.13,701.93 1494.98,712.08 1484.83,701.93" fill="#B177DE"/><polygon points="1520.96,670.98 1531.11,681.13 1520.96,691.28 1510.81,681.13" fill="#B177DE"/><polygon points="1546.94,645.42 1557.09,655.57 1546.94,665.72 1536.79,655.57" fill="#B177DE"/><polygon points="1572.91,622.45 1583.06,632.6 1572.91,642.75 1562.76,632.6" fill="#B177DE"/><polygon points="1598.89,596.88 1609.04,607.03 1598.89,617.18 1588.74,607.03" fill="#B177DE"/><polygon points="1624.87,571.75 1635.02,581.9 1624.87,592.05 1614.72,581.9" fill="#B177DE"/><polygon points="1650.84,547.48 1660.99,557.63 1650.84,567.78 1640.69,557.63" fill="#B177DE"/><polygon points="1676.82,521.92 1686.97,532.07 1676.82,542.22 1666.67,532.07" fill="#B177DE"/><polygon points="1702.8,497.65 1712.95,507.8 1702.8,517.95 1692.65,507.8" fill="#B177DE"/><polygon points="1728.77,474.68 1738.92,484.83 1728.77,494.98 1718.62,484.83" fill="#B177DE"/><polygon points="1754.75,451.72 1764.9,461.87 1754.75,472.02 1744.6,461.87" fill="#B177DE"/><polygon points="1780.73,429.62 1790.88,439.77 1780.73,449.92 1770.58,439.77" fill="#B177DE"/><polygon points="1806.7,408.82 1816.85,418.97 1806.7,429.12 1796.55,418.97" fill="#B177DE"/><polygon points="1832.68,387.15 1842.83,397.3 1832.68,407.45 1822.53,397.3" fill="#B177DE"/><polygon points="1858.66,364.18 1868.81,374.33 1858.66,384.48 1848.51,374.33" fill="#B177DE"/><polygon points="1884.63,344.25 1894.78,354.4 1884.63,364.55 1874.48,354.4" fill="#B177DE"/><polygon points="1910.61,322.58 1920.76,332.73 1910.61,342.88 1900.46,332.73" fill="#B177DE"/><polygon points="1936.59,301.78 1946.74,311.93 1936.59,322.08 1926.44,311.93" fill="#B177DE"/><polygon points="1962.56,280.98 1972.71,291.13 1962.56,301.28 1952.41,291.13" fill="#B177DE"/><polygon points="1988.54,258.88 1998.69,269.03 1988.54,279.18 1978.39,269.03" fill="#B177DE"/><polygon points="2014.52,239.38 2024.67,249.53 2014.52,259.68 2004.37,249.53" fill="#B177DE"/><polygon points="2040.49,218.58 2050.64,228.73 2040.49,238.88 2030.34,228.73" fill="#B177DE"/><polygon points="2066.47,197.78 2076.62,207.93 2066.47,218.08 2056.32,207.93" fill="#B177DE"/><polygon points="2092.45,177.85 2102.6,188 2092.45,198.15 2082.3,188" fill="#B177DE"/><polygon points="2118.42,159.65 2128.57,169.8 2118.42,179.95 2108.27,169.8" fill="#B177DE"/><polygon points="2144.4,141.02 2154.55,151.17 2144.4,161.32 2134.25,151.17" fill="#B177DE"/>
<polyline points="1365.1,780.8 1391.08,772.13 1417.05,763.47 1443.03,752.63 1469.01,739.63 1494.98,724.47 1520.96,707.13 1546.94,688.07 1572.91,669.43 1598.89,653.4 1624.87,634.77 1650.84,616.57 1676.82,599.23 1702.8,581.9 1728.77,565.43 1754.75,547.23 1780.73,530.77 1806.7,514.3 1832.68,497.83 1858.66,479.2 1884.63,460.13 1910.61,442.37 1936.59,425.03 1962.56,409 1988.54,391.67 2014.52,375.2 2040.49,357.87 2066.47,340.53 2092.45,323.2 2118.42,305.87 2144.4,287.67" fill="none" stroke="#CC9900" stroke-width="4" stroke-linejoin="round"/>
<polygon points="1365.1,790.59 1374.4,774.93 1355.8,774.93" fill="#CC9900"/><polygon points="1391.08,781.92 1400.37,766.26 1381.78,766.26" fill="#CC9900"/><polygon points="1417.05,773.25 1426.35,757.59 1407.76,757.59" fill="#CC9900"/><polygon points="1443.03,762.42 1452.33,746.76 1433.73,746.76" fill="#CC9900"/><polygon points="1469.01,749.42 1478.3,733.76 1459.71,733.76" fill="#CC9900"/><polygon points="1494.98,734.25 1504.28,718.59 1485.69,718.59" fill="#CC9900"/><polygon points="1520.96,716.92 1530.26,701.26 1511.66,701.26" fill="#CC9900"/><polygon points="1546.94,697.85 1556.23,682.19 1537.64,682.19" fill="#CC9900"/><polygon points="1572.91,679.22 1582.21,663.56 1563.62,663.56" fill="#CC9900"/><polygon points="1598.89,663.19 1608.19,647.53 1589.59,647.53" fill="#CC9900"/><polygon points="1624.87,644.55 1634.16,628.89 1615.57,628.89" fill="#CC9900"/><polygon points="1650.84,626.35 1660.14,610.69 1641.55,610.69" fill="#CC9900"/><polygon points="1676.82,609.02 1686.12,593.36 1667.52,593.36" fill="#CC9900"/><polygon points="1702.8,591.69 1712.09,576.03 1693.5,576.03" fill="#CC9900"/><polygon points="1728.77,575.22 1738.07,559.56 1719.48,559.56" fill="#CC9900"/><polygon points="1754.75,557.02 1764.05,541.36 1745.45,541.36" fill="#CC9900"/><polygon points="1780.73,540.55 1790.02,524.89 1771.43,524.89" fill="#CC9900"/><polygon points="1806.7,524.09 1816,508.43 1797.41,508.43" fill="#CC9900"/><polygon points="1832.68,507.62 1841.98,491.96 1823.38,491.96" fill="#CC9900"/><polygon points="1858.66,488.99 1867.95,473.33 1849.36,473.33" fill="#CC9900"/><polygon points="1884.63,469.92 1893.93,454.26 1875.34,454.26" fill="#CC9900"/><polygon points="1910.61,452.15 1919.91,436.49 1901.31,436.49" fill="#CC9900"/><polygon points="1936.59,434.82 1945.88,419.16 1927.29,419.16" fill="#CC9900"/><polygon points="1962.56,418.79 1971.86,403.13 1953.27,403.13" fill="#CC9900"/><polygon points="1988.54,401.45 1997.84,385.79 1979.24,385.79" fill="#CC9900"/><polygon points="2014.52,384.99 2023.81,369.33 2005.22,369.33" fill="#CC9900"/><polygon points="2040.49,367.65 2049.79,351.99 2031.2,351.99" fill="#CC9900"/><polygon points="2066.47,350.32 2075.77,334.66 2057.17,334.66" fill="#CC9900"/><polygon points="2092.45,332.99 2101.74,317.33 2083.15,317.33" fill="#CC9900"/><polygon points="2118.42,315.65 2127.72,299.99 2109.13,299.99" fill="#CC9900"/><polygon points="2144.4,297.45 2153.7,281.79 2135.1,281.79" fill="#CC9900"/>
<polyline points="1365.1,780.8 1391.08,773.65 1417.05,766.5 1443.03,756.75 1469.01,747 1494.98,732.48 1520.96,717.97 1546.94,702.15 1572.91,686.33 1598.89,669 1624.87,651.67 1650.84,634.33 1676.82,617 1702.8,601.4 1728.77,585.8 1754.75,570.63 1780.73,555.47 1806.7,540.3 1832.68,525.13 1858.66,510.4 1884.63,495.67 1910.61,481.15 1936.59,466.63 1962.56,452.55 1988.54,438.47 2014.52,424.38 2040.49,410.3 2066.47,395.78 2092.45,381.27 2118.42,367.4 2144.4,353.53" fill="none" stroke="#00CBCC" stroke-width="4" stroke-linejoin="round"/>
<polygon points="1374.89,780.8 1359.23,771.5 1359.23,790.1" fill="#00CBCC"/><polygon points="1400.86,773.65 1385.2,764.35 1385.2,782.95" fill="#00CBCC"/><polygon points="1426.84,766.5 1411.18,757.2 1411.18,775.8" fill="#00CBCC"/><polygon points="1452.82,756.75 1437.16,747.45 1437.16,766.05" fill="#00CBCC"/><polygon points="1478.79,747 1463.13,737.7 1463.13,756.3" fill="#00CBCC"/><polygon points="1504.77,732.48 1489.11,723.19 1489.11,741.78" fill="#00CBCC"/><polygon points="1530.75,717.97 1515.09,708.67 1515.09,727.26" fill="#00CBCC"/><polygon points="1556.72,702.15 1541.06,692.85 1541.06,711.45" fill="#00CBCC"/><polygon points="1582.7,686.33 1567.04,677.04 1567.04,695.63" fill="#00CBCC"/><polygon points="1608.68,669 1593.02,659.7 1593.02,678.3" fill="#00CBCC"/><polygon points="1634.65,651.67 1618.99,642.37 1618.99,660.96" fill="#00CBCC"/><polygon points="1660.63,634.33 1644.97,625.04 1644.97,643.63" fill="#00CBCC"/><polygon points="1686.61,617 1670.95,607.7 1670.95,626.3" fill="#00CBCC"/><polygon points="1712.58,601.4 1696.92,592.1 1696.92,610.7" fill="#00CBCC"/><polygon points="1738.56,585.8 1722.9,576.5 1722.9,595.1" fill="#00CBCC"/><polygon points="1764.54,570.63 1748.88,561.34 1748.88,579.93" fill="#00CBCC"/><polygon points="1790.51,555.47 1774.85,546.17 1774.85,564.76" fill="#00CBCC"/><polygon points="1816.49,540.3 1800.83,531 1800.83,549.6" fill="#00CBCC"/><polygon points="1842.47,525.13 1826.81,515.84 1826.81,534.43" fill="#00CBCC"/><polygon points="1868.44,510.4 1852.78,501.1 1852.78,519.7" fill="#00CBCC"/><polygon points="1894.42,495.67 1878.76,486.37 1878.76,504.96" fill="#00CBCC"/><polygon points="1920.4,481.15 1904.74,471.85 1904.74,490.45" fill="#00CBCC"/><polygon points="1946.37,466.63 1930.71,457.34 1930.71,475.93" fill="#00CBCC"/><polygon points="1972.35,452.55 1956.69,443.25 1956.69,461.85" fill="#00CBCC"/><polygon points="1998.33,438.47 1982.67,429.17 1982.67,447.76" fill="#00CBCC"/><polygon points="2024.3,424.38 2008.64,415.09 2008.64,433.68" fill="#00CBCC"/><polygon points="2050.28,410.3 2034.62,401 2034.62,419.6" fill="#00CBCC"/><polygon points="2076.26,395.78 2060.6,386.49 2060.6,405.08" fill="#00CBCC"/><polygon points="2102.23,381.27 2086.57,371.97 2086.57,390.56" fill="#00CBCC"/><polygon points="2128.21,367.4 2112.55,358.1 2112.55,376.7" fill="#00CBCC"/><polygon points="2154.19,353.53 2138.53,344.24 2138.53,362.83" fill="#00CBCC"/>
<polyline points="1365.1,780.8 1391.08,772.13 1417.05,764.33 1443.03,756.1 1469.01,743.53 1494.98,729.67 1520.96,714.5 1546.94,699.77 1572.91,682.43 1598.89,665.1 1624.87,647.77 1650.84,630.43 1676.82,613.1 1702.8,596.63 1728.77,581.9 1754.75,566.73 1780.73,550.27 1806.7,535.53 1832.68,520.8 1858.66,505.2 1884.63,489.6 1910.61,474.43 1936.59,459.27 1962.56,444.53 1988.54,429.8 2014.52,414.63 2040.49,400.77 2066.47,385.6 2092.45,370.87 2118.42,357 2144.4,341.83" fill="none" stroke="#7D4E4E" stroke-width="4" stroke-linejoin="round"/>
<polygon points="1372.32,784.97 1365.1,789.14 1357.88,784.97 1357.88,776.63 1365.1,772.46 1372.32,776.63" fill="#7D4E4E"/><polygon points="1398.3,776.3 1391.08,780.47 1383.86,776.3 1383.86,767.96 1391.08,763.8 1398.3,767.96" fill="#7D4E4E"/><polygon points="1424.27,768.5 1417.05,772.67 1409.83,768.5 1409.83,760.16 1417.05,756 1424.27,760.16" fill="#7D4E4E"/><polygon points="1450.25,760.27 1443.03,764.44 1435.81,760.27 1435.81,751.93 1443.03,747.76 1450.25,751.93" fill="#7D4E4E"/><polygon points="1476.23,747.7 1469.01,751.87 1461.79,747.7 1461.79,739.36 1469.01,735.2 1476.23,739.36" fill="#7D4E4E"/><polygon points="1502.2,733.84 1494.98,738 1487.76,733.84 1487.76,725.5 1494.98,721.33 1502.2,725.5" fill="#7D4E4E"/><polygon points="1528.18,718.67 1520.96,722.84 1513.74,718.67 1513.74,710.33 1520.96,706.16 1528.18,710.33" fill="#7D4E4E"/><polygon points="1554.16,703.94 1546.94,708.1 1539.72,703.94 1539.72,695.6 1546.94,691.43 1554.16,695.6" fill="#7D4E4E"/><polygon points="1580.13,686.6 1572.91,690.77 1565.69,686.6 1565.69,678.26 1572.91,674.1 1580.13,678.26" fill="#7D4E4E"/><polygon points="1606.11,669.27 1598.89,673.44 1591.67,669.27 1591.67,660.93 1598.89,656.76 1606.11,660.93" fill="#7D4E4E"/><polygon points="1632.09,651.94 1624.87,656.1 1617.65,651.94 1617.65,643.6 1624.87,639.43 1632.09,643.6" fill="#7D4E4E"/><polygon points="1658.06,634.6 1650.84,638.77 1643.62,634.6 1643.62,626.26 1650.84,622.1 1658.06,626.26" fill="#7D4E4E"/><polygon points="1684.04,617.27 1676.82,621.44 1669.6,617.27 1669.6,608.93 1676.82,604.76 1684.04,608.93" fill="#7D4E4E"/><polygon points="1710.02,600.8 1702.8,604.97 1695.58,600.8 1695.58,592.46 1702.8,588.3 1710.02,592.46" fill="#7D4E4E"/><polygon points="1735.99,586.07 1728.77,590.24 1721.55,586.07 1721.55,577.73 1728.77,573.56 1735.99,577.73" fill="#7D4E4E"/><polygon points="1761.97,570.9 1754.75,575.07 1747.53,570.9 1747.53,562.56 1754.75,558.4 1761.97,562.56" fill="#7D4E4E"/><polygon points="1787.95,554.44 1780.73,558.6 1773.51,554.44 1773.51,546.1 1780.73,541.93 1787.95,546.1" fill="#7D4E4E"/><polygon points="1813.92,539.7 1806.7,543.87 1799.48,539.7 1799.48,531.36 1806.7,527.2 1813.92,531.36" fill="#7D4E4E"/><polygon points="1839.9,524.97 1832.68,529.14 1825.46,524.97 1825.46,516.63 1832.68,512.46 1839.9,516.63" fill="#7D4E4E"/><polygon points="1865.88,509.37 1858.66,513.54 1851.44,509.37 1851.44,501.03 1858.66,496.86 1865.88,501.03" fill="#7D4E4E"/><polygon points="1891.85,493.77 1884.63,497.94 1877.41,493.77 1877.41,485.43 1884.63,481.26 1891.85,485.43" fill="#7D4E4E"/><polygon points="1917.83,478.6 1910.61,482.77 1903.39,478.6 1903.39,470.26 1910.61,466.1 1917.83,470.26" fill="#7D4E4E"/><polygon points="1943.81,463.44 1936.59,467.6 1929.37,463.44 1929.37,455.1 1936.59,450.93 1943.81,455.1" fill="#7D4E4E"/><polygon points="1969.78,448.7 1962.56,452.87 1955.34,448.7 1955.34,440.36 1962.56,436.2 1969.78,440.36" fill="#7D4E4E"/><polygon points="1995.76,433.97 1988.54,438.14 1981.32,433.97 1981.32,425.63 1988.54,421.46 1995.76,425.63" fill="#7D4E4E"/><polygon points="2021.74,418.8 2014.52,422.97 2007.3,418.8 2007.3,410.46 2014.52,406.3 2021.74,410.46" fill="#7D4E4E"/><polygon points="2047.71,404.94 2040.49,409.1 2033.27,404.94 2033.27,396.6 2040.49,392.43 2047.71,396.6" fill="#7D4E4E"/><polygon points="2073.69,389.77 2066.47,393.94 2059.25,389.77 2059.25,381.43 2066.47,377.26 2073.69,381.43" fill="#7D4E4E"/><polygon points="2099.67,375.04 2092.45,379.2 2085.23,375.04 2085.23,366.7 2092.45,362.53 2099.67,366.7" fill="#7D4E4E"/><polygon points="2125.64,361.17 2118.42,365.34 2111.2,361.17 2111.2,352.83 2118.42,348.66 2125.64,352.83" fill="#7D4E4E"/><polygon points="2151.62,346 2144.4,350.17 2137.18,346 2137.18,337.66 2144.4,333.5 2151.62,337.66" fill="#7D4E4E"/>
</g>
<rect x="1365.1" y="130.8" width="779.3" height="650" fill="none" stroke="#000" stroke-width="4.4"/>
<path d="M1365.1 780.8V768.8M1365.1 130.8V142.8M1469.01 780.8V768.8M1469.01 130.8V142.8M1572.91 780.8V768.8M1572.91 130.8V142.8M1676.82 780.8V768.8M1676.82 130.8V142.8M1780.73 780.8V768.8M1780.73 130.8V142.8M1884.63 780.8V768.8M1884.63 130.8V142.8M1988.54 780.8V768.8M1988.54 130.8V142.8M2092.45 780.8V768.8M2092.45 130.8V142.8M1417.05 780.8V774.3M1417.05 130.8V137.3M1520.96 780.8V774.3M1520.96 130.8V137.3M1624.87 780.8V774.3M1624.87 130.8V137.3M1728.77 780.8V774.3M1728.77 130.8V137.3M1832.68 780.8V774.3M1832.68 130.8V137.3M1936.59 780.8V774.3M1936.59 130.8V137.3M2040.49 780.8V774.3M2040.49 130.8V137.3M1365.1 694.13H1377.1M2144.4 694.13H2132.4M1365.1 607.47H1377.1M2144.4 607.47H2132.4M1365.1 520.8H1377.1M2144.4 520.8H2132.4M1365.1 434.13H1377.1M2144.4 434.13H2132.4M1365.1 347.47H1377.1M2144.4 347.47H2132.4M1365.1 260.8H1377.1M2144.4 260.8H2132.4M1365.1 174.13H1377.1M2144.4 174.13H2132.4M1365.1 737.47H1371.6M2144.4 737.47H2137.9M1365.1 650.8H1371.6M2144.4 650.8H2137.9M1365.1 564.13H1371.6M2144.4 564.13H2137.9M1365.1 477.47H1371.6M2144.4 477.47H2137.9M1365.1 390.8H1371.6M2144.4 390.8H2137.9M1365.1 304.13H1371.6M2144.4 304.13H2137.9M1365.1 217.47H1371.6M2144.4 217.47H2137.9" stroke="#000" stroke-width="4.4" fill="none"/>
<text x="1365.1" y="822.3" font-size="37" text-anchor="middle">0</text>
<text x="1469.01" y="822.3" font-size="37" text-anchor="middle">2</text>
<text x="1572.91" y="822.3" font-size="37" text-anchor="middle">4</text>
<text x="1676.82" y="822.3" font-size="37" text-anchor="middle">6</text>
<text x="1780.73" y="822.3" font-size="37" text-anchor="middle">8</text>
<text x="1884.63" y="822.3" font-size="37" text-anchor="middle">10</text>
<text x="1988.54" y="822.3" font-size="37" text-anchor="middle">12</text>
<text x="2092.45" y="822.3" font-size="37" text-anchor="middle">14</text>
<text x="1350.8" y="791.6" font-size="37" text-anchor="end">300</text>
<text x="1350.8" y="704.93" font-size="37" text-anchor="end">320</text>
<text x="1350.8" y="618.27" font-size="37" text-anchor="end">340</text>
<text x="1350.8" y="531.6" font-size="37" text-anchor="end">360</text>
<text x="1350.8" y="444.93" font-size="37" text-anchor="end">380</text>
<text x="1350.8" y="358.27" font-size="37" text-anchor="end">400</text>
<text x="1350.8" y="271.6" font-size="37" text-anchor="end">420</text>
<text x="1350.8" y="184.93" font-size="37" text-anchor="end">440</text>
<text x="1753.5" y="899.7" font-size="46.5" text-anchor="middle">Drain Voltage (V)</text>
<text x="1213.8" y="459.2" font-size="47" text-anchor="middle" transform="rotate(-90 1213.8 459.2)">Hotspot Peak Temperature (K)</text>
<text x="1234.7" y="70.4" font-size="54.5" text-anchor="middle">(b)</text>
<clipPath id="clipC"><rect x="275" y="1135" width="621" height="227"/></clipPath>
<g clip-path="url(#clipC)">
<rect x="271.0" y="1131.0" width="629.0" height="235.0" fill="#0000FF"/>
<path d="M275.0 1131.0L900.0 1131.0L900.0 1366.0L344.3 1366.0L344.3 1362.0L337.2 1355.9L322.8 1344.7L316.1 1340.4L309.4 1336.6L299.4 1332.3L290.6 1329.7L281.7 1328.5L271.0 1328.6L271.0 1131.0Z" fill="#0066FF" fill-rule="evenodd"/>
<path d="M320.5 1131.0L900.0 1131.0L900.0 1366.0L419.0 1366.0L419.0 1362.0L388.9 1320.7L376.4 1302.3L366.2 1286.0L351.5 1259.9L345.6 1248.0L339.7 1234.9L334.2 1220.8L329.8 1207.8L326.0 1193.7L323.2 1180.6L321.2 1167.6L320.1 1154.6L319.8 1140.4L320.0 1131.0Z" fill="#0080FF" fill-rule="evenodd"/>
<path d="M385.0 1131.0L900.0 1131.0L900.0 1366.0L467.0 1366.0L467.0 1362.0L447.2 1324.8L438.2 1306.6L429.7 1288.1L418.6 1262.1L408.9 1236.0L399.9 1207.8L392.6 1179.5L389.4 1164.3L386.7 1149.1L384.8 1135.0Z" fill="#0095FF" fill-rule="evenodd"/>
<path d="M436.1 1131.0L900.0 1131.0L900.0 1366.0L507.5 1366.0L507.5 1362.0L502.7 1346.5L497.1 1330.5L487.2 1305.8L460.2 1242.5L453.2 1224.1L447.0 1205.6L441.5 1185.0L437.6 1164.3L436.2 1153.5L435.5 1142.6L435.3 1131.0Z" fill="#00AAFF" fill-rule="evenodd"/>
<path d="M479.4 1131.0L900.0 1131.0L900.0 1366.0L539.2 1366.0L539.2 1362.0L520.0 1318.6L505.7 1282.7L496.3 1255.6L489.2 1230.6L485.8 1216.5L483.3 1203.4L479.7 1178.4L478.7 1165.4L478.3 1152.4L478.8 1131.0Z" fill="#00CCFF" fill-rule="evenodd"/>
<path d="M501.6 1131.0L900.0 1131.0L900.0 1366.0L568.1 1366.0L568.1 1362.0L551.4 1328.3L543.8 1311.4L537.2 1295.2L527.2 1267.7L519.4 1242.5L511.7 1212.1L506.2 1182.8L503.8 1166.3L502.2 1150.2L501.1 1135.0L501.1 1131.0Z" fill="#00E5FF" fill-rule="evenodd"/>
<path d="M528.3 1131.0L900.0 1131.0L900.0 1366.0L594.1 1366.0L594.1 1362.0L556.5 1263.2L547.9 1238.2L541.4 1216.5L535.3 1192.6L530.8 1168.7L528.9 1154.6L527.8 1141.5L527.4 1131.0Z" fill="#00FFFF" fill-rule="evenodd"/>
<path d="M551.6 1131.0L900.0 1131.0L900.0 1366.0L619.2 1366.0L619.2 1362.0L584.0 1270.8L574.5 1243.6L567.1 1219.7L560.6 1194.7L555.7 1170.8L552.1 1144.8L551.2 1135.0L551.2 1131.0Z" fill="#00FFDD" fill-rule="evenodd"/>
<path d="M573.8 1131.0L900.0 1131.0L900.0 1366.0L641.7 1366.0L641.7 1362.0L626.0 1326.6L611.8 1290.3L602.7 1264.2L594.3 1237.1L586.3 1206.7L579.6 1176.3L576.2 1156.7L573.2 1136.1L573.0 1131.0Z" fill="#00FFBB" fill-rule="evenodd"/>
<path d="M593.8 1131.0L900.0 1131.0L900.0 1366.0L664.4 1366.0L664.4 1362.0L645.2 1318.6L630.5 1281.9L620.6 1254.5L612.7 1230.0L604.8 1201.3L598.6 1173.0L595.7 1155.6L593.5 1139.3L593.0 1131.0Z" fill="#00FF99" fill-rule="evenodd"/>
<path d="M613.8 1131.0L900.0 1131.0L900.0 1366.0L688.3 1366.0L688.3 1362.0L660.9 1299.0L647.5 1266.4L638.9 1243.6L631.1 1220.8L623.3 1193.7L617.7 1168.7L615.1 1153.5L613.3 1139.3L612.9 1131.0Z" fill="#00FF80" fill-rule="evenodd"/>
<path d="M631.6 1131.0L900.0 1131.0L900.0 1366.0L709.6 1366.0L709.6 1362.0L688.5 1318.6L672.1 1281.6L662.1 1256.6L653.2 1231.7L645.2 1205.6L638.5 1178.4L633.4 1150.2L631.4 1135.0Z" fill="#00FF66" fill-rule="evenodd"/>
<path d="M647.2 1131.0L900.0 1131.0L900.0 1366.0L730.8 1366.0L730.8 1362.0L721.6 1346.7L712.7 1331.0L703.8 1314.0L696.0 1297.9L683.8 1270.3L673.6 1243.6L663.3 1212.1L654.9 1180.5L650.5 1159.9L646.7 1138.3L646.2 1135.0L646.2 1131.0Z" fill="#33FF00" fill-rule="evenodd"/>
<path d="M662.7 1131.0L900.0 1131.0L900.0 1366.0L759.4 1366.0L759.4 1362.0L748.2 1346.7L738.3 1331.9L728.3 1315.9L719.4 1300.5L706.0 1274.6L693.8 1247.2L687.1 1230.2L681.6 1214.4L672.4 1183.9L667.6 1164.3L663.6 1144.8L662.0 1135.0L662.0 1131.0Z" fill="#88FF00" fill-rule="evenodd"/>
<path d="M677.2 1131.0L900.0 1131.0L900.0 1366.0L793.4 1366.0L793.4 1362.0L791.6 1359.8L783.1 1345.7L771.8 1328.3L736.5 1277.3L724.2 1258.8L710.9 1237.1L699.9 1216.5L694.4 1204.5L689.9 1193.7L685.7 1181.7L682.6 1170.8L679.8 1158.9L677.6 1145.9L676.4 1135.0L676.4 1131.0Z" fill="#AAFF00" fill-rule="evenodd"/>
<path d="M689.4 1131.0L900.0 1131.0L900.0 1366.0L885.1 1366.0L885.1 1362.0L882.7 1359.8L863.8 1350.5L846.0 1341.0L827.1 1330.0L811.6 1320.1L792.7 1306.9L774.9 1292.9L758.2 1278.0L743.8 1263.1L730.5 1247.1L719.4 1231.2L709.7 1214.3L702.7 1199.1L696.9 1182.8L692.6 1165.4L690.0 1146.9L689.4 1138.3Z" fill="#CCFF00" fill-rule="evenodd"/>
<path d="M700.5 1131.0L900.0 1131.0L900.0 1326.6L896.0 1326.6L884.9 1324.9L864.9 1320.3L846.0 1314.1L827.1 1306.1L809.3 1296.6L792.7 1286.0L776.0 1273.3L761.6 1260.2L748.2 1246.0L736.1 1230.6L725.5 1214.3L717.5 1199.1L710.2 1181.7L706.9 1171.9L704.6 1163.2L702.4 1153.5L700.7 1142.6L699.9 1135.0L699.9 1131.0Z" fill="#E5FF00" fill-rule="evenodd"/>
<path d="M711.6 1131.0L900.0 1131.0L900.0 1295.8L881.6 1295.6L864.9 1293.8L848.2 1290.3L831.6 1285.2L814.9 1278.3L799.4 1270.0L784.9 1260.7L770.5 1249.2L757.1 1236.4L746.0 1223.5L735.8 1208.9L727.2 1193.7L720.7 1178.4L715.6 1162.2L713.4 1152.4L712.1 1143.7L711.2 1135.0L711.2 1131.0Z" fill="#FFFF00" fill-rule="evenodd"/>
<path d="M721.6 1131.0L900.0 1131.0L900.0 1265.7L896.0 1265.7L887.1 1267.2L879.3 1268.0L866.0 1268.4L850.5 1267.2L836.0 1264.6L820.5 1260.1L806.0 1254.1L791.6 1246.4L778.2 1237.3L764.9 1226.0L753.9 1214.3L744.0 1201.3L736.2 1188.2L732.4 1180.6L729.3 1173.0L724.4 1157.8L722.5 1149.1L721.1 1139.3L720.7 1131.0Z" fill="#FFD500" fill-rule="evenodd"/>
<path d="M731.6 1131.0L900.0 1131.0L900.0 1232.1L896.0 1232.1L880.4 1235.9L864.9 1238.1L850.5 1238.7L836.0 1238.0L821.6 1235.8L807.1 1232.0L793.8 1226.8L782.7 1220.9L770.5 1212.4L760.5 1203.2L751.6 1192.8L744.4 1181.7L738.3 1168.9L734.0 1155.6L732.4 1148.0L731.3 1140.4L730.9 1131.0Z" fill="#FFBB00" fill-rule="evenodd"/>
<path d="M740.5 1131.0L900.0 1131.0L900.0 1193.9L896.0 1193.9L868.2 1203.0L852.7 1207.6L841.6 1210.3L831.6 1212.0L820.5 1213.1L809.3 1212.9L799.4 1211.4L790.5 1208.8L785.8 1206.7L780.5 1203.7L771.2 1196.9L762.6 1188.2L754.5 1177.4L747.9 1165.4L745.2 1158.9L743.0 1152.4L741.1 1144.8L740.0 1138.3L739.7 1131.0Z" fill="#FFA500" fill-rule="evenodd"/>
<path d="M750.5 1131.0L877.6 1131.0L877.6 1135.0L876.0 1141.7L873.9 1148.0L868.9 1158.9L865.6 1164.3L861.8 1169.8L857.2 1175.2L852.8 1179.5L843.8 1186.5L839.0 1189.3L833.8 1191.7L828.2 1193.6L822.7 1194.9L817.1 1195.5L811.6 1195.6L806.0 1195.2L799.4 1194.0L792.7 1192.0L787.1 1189.7L781.6 1186.8L776.0 1183.2L771.6 1179.6L767.1 1175.3L762.7 1170.1L759.4 1165.4L756.0 1159.4L753.4 1153.5L751.4 1146.9L749.9 1139.3L749.4 1131.0Z" fill="#FF9000" fill-rule="evenodd"/>
<path d="M759.4 1131.0L842.6 1131.0L842.6 1135.0L843.4 1140.4L843.6 1145.9L843.1 1151.3L841.8 1156.7L839.0 1163.2L835.1 1168.7L830.3 1173.0L823.8 1176.7L817.1 1178.8L809.3 1179.7L801.6 1179.2L793.8 1177.3L786.0 1174.1L779.4 1170.2L772.7 1164.7L767.6 1158.9L763.5 1152.4L760.8 1145.9L759.7 1141.5L759.1 1137.2L759.0 1131.0Z" fill="#FF7700" fill-rule="evenodd"/>
<path d="M768.2 1131.0L835.0 1131.0L835.4 1141.5L834.7 1146.9L832.7 1152.4L829.8 1156.7L826.0 1160.3L820.5 1163.5L814.9 1165.3L808.2 1166.2L801.6 1166.1L794.9 1165.0L788.2 1162.8L782.7 1160.0L778.1 1156.7L773.8 1152.4L770.5 1147.3L768.3 1141.5L767.5 1135.0L767.5 1131.0Z" fill="#FF5500" fill-rule="evenodd"/>
<path d="M781.6 1131.0L829.5 1131.0L829.3 1140.9L828.0 1144.8L826.0 1147.7L822.7 1150.7L819.3 1152.5L814.9 1154.0L809.3 1154.9L803.8 1154.9L799.4 1154.3L794.9 1153.1L790.5 1151.2L787.1 1149.0L784.1 1145.9L782.2 1142.6L781.3 1139.3L781.2 1131.0Z" fill="#FF3300" fill-rule="evenodd"/>
</g>
<line x1="275.6" y1="1135" x2="275.6" y2="1362" stroke="#000" stroke-width="1.2"/>
<rect x="275.3" y="1107" width="85.7" height="28.1" fill="#000"/>
<rect x="565" y="1107" width="85.8" height="28.1" fill="#000"/>
<rect x="807.1" y="1105" width="85.9" height="30.1" fill="#000"/>
<rect x="276.5" y="1369.5" width="621.8" height="224.3" fill="#AE00FF" stroke="#2F5597" stroke-width="4.4"/>
<line x1="278.8" y1="1365.5" x2="901.5" y2="1365.5" stroke="#000" stroke-width="9.5" stroke-linecap="round"/>
<line x1="279.3" y1="1362.1" x2="901" y2="1362.1" stroke="#8a8a8a" stroke-width="1.6" stroke-linecap="round"/>
<text x="282.8" y="1419.7" font-size="36.5" fill="#FFF">thermal boundary layer</text>
<polygon points="659.91,1407.4 702.71,1385.59 698.9,1378.11 724.4,1379.7 710.7,1401.27 706.89,1393.79 664.09,1415.6" fill="#FFF"/>
<text x="939" y="1096.6" font-size="37" text-anchor="end">446K</text>
<text x="939" y="1667.4" font-size="37" text-anchor="end">333K</text>
<rect x="194.6" y="1039.9" width="774.9" height="650.6" fill="none" stroke="#000" stroke-width="4.4"/>
<path d="M265.05 1690.5V1678.5M265.05 1039.9V1051.9M405.94 1690.5V1678.5M405.94 1039.9V1051.9M546.83 1690.5V1678.5M546.83 1039.9V1051.9M687.72 1690.5V1678.5M687.72 1039.9V1051.9M828.61 1690.5V1678.5M828.61 1039.9V1051.9M335.49 1690.5V1684M335.49 1039.9V1046.4M476.38 1690.5V1684M476.38 1039.9V1046.4M617.27 1690.5V1684M617.27 1039.9V1046.4M758.16 1690.5V1684M758.16 1039.9V1046.4M899.05 1690.5V1684M899.05 1039.9V1046.4M194.6 1148.33H206.6M969.5 1148.33H957.5M194.6 1256.77H206.6M969.5 1256.77H957.5M194.6 1365.2H206.6M969.5 1365.2H957.5M194.6 1473.63H206.6M969.5 1473.63H957.5M194.6 1582.07H206.6M969.5 1582.07H957.5M194.6 1094.12H201.1M969.5 1094.12H963M194.6 1202.55H201.1M969.5 1202.55H963M194.6 1310.98H201.1M969.5 1310.98H963M194.6 1419.42H201.1M969.5 1419.42H963M194.6 1527.85H201.1M969.5 1527.85H963M194.6 1636.28H201.1M969.5 1636.28H963" stroke="#000" stroke-width="4.4" fill="none"/>
<line x1="951.5" y1="1066.2" x2="966" y2="1066.2" stroke="#FF88FF" stroke-width="1.2" stroke-dasharray="1.5 2.6"/><rect x="950" y="1068.6" width="17" height="13.81" fill="#FF0000"/><rect x="950" y="1086.01" width="17" height="13.81" fill="#FF3300"/><rect x="950" y="1103.41" width="17" height="13.81" fill="#FF5500"/><rect x="950" y="1120.82" width="17" height="13.81" fill="#FF7700"/><rect x="950" y="1138.22" width="17" height="13.81" fill="#FF9000"/><rect x="950" y="1155.63" width="17" height="13.81" fill="#FFA500"/><rect x="950" y="1173.04" width="17" height="13.81" fill="#FFBB00"/><rect x="950" y="1190.44" width="17" height="13.81" fill="#FFD500"/><rect x="950" y="1207.85" width="17" height="13.81" fill="#FFFF00"/><rect x="950" y="1225.25" width="17" height="13.81" fill="#E5FF00"/><rect x="950" y="1242.66" width="17" height="13.81" fill="#CCFF00"/><rect x="950" y="1260.06" width="17" height="13.81" fill="#AAFF00"/><rect x="950" y="1277.47" width="17" height="13.81" fill="#88FF00"/><rect x="950" y="1294.88" width="17" height="13.81" fill="#33FF00"/><rect x="950" y="1312.28" width="17" height="13.81" fill="#00FF66"/><rect x="950" y="1329.69" width="17" height="13.81" fill="#00FF80"/><rect x="950" y="1347.09" width="17" height="13.81" fill="#00FF99"/><rect x="950" y="1364.5" width="17" height="13.81" fill="#00FFBB"/><rect x="950" y="1381.91" width="17" height="13.81" fill="#00FFDD"/><rect x="950" y="1399.31" width="17" height="13.81" fill="#00FFFF"/><rect x="950" y="1416.72" width="17" height="13.81" fill="#00E5FF"/><rect x="950" y="1434.12" width="17" height="13.81" fill="#00CCFF"/><rect x="950" y="1451.53" width="17" height="13.81" fill="#00AAFF"/><rect x="950" y="1468.94" width="17" height="13.81" fill="#0095FF"/><rect x="950" y="1486.34" width="17" height="13.81" fill="#0080FF"/><rect x="950" y="1503.75" width="17" height="13.81" fill="#0066FF"/><rect x="950" y="1521.15" width="17" height="13.81" fill="#0000FF"/><rect x="950" y="1538.56" width="17" height="13.81" fill="#5500FF"/><rect x="950" y="1555.96" width="17" height="13.81" fill="#7000FF"/><rect x="950" y="1573.37" width="17" height="13.81" fill="#8800FF"/><rect x="950" y="1590.78" width="17" height="13.81" fill="#A000FF"/><rect x="950" y="1608.18" width="17" height="13.81" fill="#C000FF"/><rect x="950" y="1625.59" width="17" height="13.81" fill="#E000FF"/><rect x="950" y="1642.99" width="17" height="13.81" fill="#FF00FF"/>
<text x="265.05" y="1732" font-size="37" text-anchor="middle">0</text>
<text x="405.94" y="1732" font-size="37" text-anchor="middle">2</text>
<text x="546.83" y="1732" font-size="37" text-anchor="middle">4</text>
<text x="687.72" y="1732" font-size="37" text-anchor="middle">6</text>
<text x="828.61" y="1732" font-size="37" text-anchor="middle">8</text>
<text x="969.5" y="1732" font-size="37" text-anchor="middle">10</text>
<text x="179.6" y="1050.7" font-size="37" text-anchor="end">−1</text>
<text x="179.6" y="1159.13" font-size="37" text-anchor="end">0</text>
<text x="179.6" y="1267.57" font-size="37" text-anchor="end">1</text>
<text x="179.6" y="1376" font-size="37" text-anchor="end">2</text>
<text x="179.6" y="1484.43" font-size="37" text-anchor="end">3</text>
<text x="179.6" y="1592.87" font-size="37" text-anchor="end">4</text>
<text x="179.6" y="1701.3" font-size="37" text-anchor="end">5</text>
<text x="581.5" y="1809.4" font-size="46.1" text-anchor="middle">Horizontal Dimension (μm)</text>
<text x="46" y="1365.1" font-size="46.5" text-anchor="middle" transform="rotate(-90 46 1365.1)">Vertical Dimension (μm)</text>
<text x="272.7" y="1014.7" font-size="36.7">κ<tspan font-size="24" dy="8.3">TBL</tspan><tspan dy="-8.3">=0.1 W/(m·K) κ</tspan><tspan font-size="24" dy="8.3">D</tspan><tspan dy="-8.3">=1500 W/(m·K)</tspan></text>
<text x="65.4" y="980.5" font-size="54.5" text-anchor="middle">(c)</text>
<clipPath id="clipD"><rect x="1434" y="1142" width="628" height="224"/></clipPath>
<g clip-path="url(#clipD)">
<rect x="1430.0" y="1138.0" width="636.0" height="232.0" fill="#0095FF"/>
<path d="M1434.0 1138.0L2066.0 1138.0L2066.0 1370.0L1472.0 1370.0L1472.0 1366.0L1466.6 1362.8L1461.0 1360.4L1454.6 1358.5L1447.5 1357.0L1434.0 1355.1L1430.0 1355.1L1430.0 1138.0Z" fill="#00AAFF" fill-rule="evenodd"/>
<path d="M1434.0 1138.0L2066.0 1138.0L2066.0 1370.0L1567.5 1370.0L1567.5 1366.0L1506.4 1271.7L1472.8 1217.0L1463.8 1203.1L1452.6 1188.1L1441.9 1176.3L1435.1 1170.2L1434.0 1169.6L1430.0 1169.6L1430.0 1138.0Z" fill="#00CCFF" fill-rule="evenodd"/>
<path d="M1543.0 1138.0L2066.0 1138.0L2066.0 1370.0L1619.9 1370.0L1619.9 1366.0L1597.3 1321.0L1580.6 1284.5L1570.1 1258.8L1561.7 1235.2L1553.7 1208.4L1548.1 1183.8L1545.7 1169.9L1544.0 1157.0L1542.6 1142.0L1542.6 1138.0Z" fill="#00E5FF" fill-rule="evenodd"/>
<path d="M1598.0 1138.0L2066.0 1138.0L2066.0 1370.0L1660.7 1370.0L1660.7 1366.0L1636.9 1303.8L1625.6 1272.8L1617.9 1249.2L1612.0 1228.8L1606.2 1205.2L1601.8 1181.7L1599.0 1158.1Z" fill="#00FFFF" fill-rule="evenodd"/>
<path d="M1643.0 1138.0L2066.0 1138.0L2066.0 1370.0L1694.5 1370.0L1694.5 1366.0L1687.1 1337.1L1680.0 1313.6L1659.3 1249.2L1653.8 1229.9L1649.4 1211.7L1645.5 1191.3L1642.9 1170.9L1641.9 1149.5L1642.0 1138.0Z" fill="#00FFDD" fill-rule="evenodd"/>
<path d="M1668.8 1138.0L2066.0 1138.0L2066.0 1370.0L1726.4 1370.0L1726.4 1366.0L1722.7 1353.1L1693.0 1258.8L1686.1 1235.2L1680.7 1214.9L1675.1 1190.2L1671.1 1167.7L1667.9 1142.0L1667.9 1138.0Z" fill="#00FFBB" fill-rule="evenodd"/>
<path d="M1695.8 1138.0L2066.0 1138.0L2066.0 1370.0L1754.4 1370.0L1754.4 1366.0L1749.4 1348.9L1719.4 1257.3L1712.6 1235.0L1707.2 1214.9L1702.0 1192.4L1698.2 1170.9L1695.6 1147.4L1695.2 1138.0Z" fill="#00FF99" fill-rule="evenodd"/>
<path d="M1721.6 1138.0L2066.0 1138.0L2066.0 1370.0L1780.8 1370.0L1780.8 1366.0L1773.9 1341.3L1744.6 1251.3L1738.2 1229.9L1733.2 1211.7L1728.2 1190.2L1724.5 1169.9L1721.6 1147.4L1721.2 1142.0L1721.2 1138.0Z" fill="#00FF80" fill-rule="evenodd"/>
<path d="M1744.1 1138.0L2066.0 1138.0L2066.0 1370.0L1806.2 1370.0L1806.2 1366.0L1802.5 1354.1L1769.9 1259.2L1763.0 1237.4L1757.1 1217.0L1751.6 1194.5L1747.5 1173.1L1744.4 1149.5L1743.7 1142.0L1743.7 1138.0Z" fill="#00FF66" fill-rule="evenodd"/>
<path d="M1766.5 1138.0L2066.0 1138.0L2066.0 1370.0L1830.2 1370.0L1830.2 1366.0L1825.4 1351.0L1817.1 1326.9L1792.6 1258.8L1785.6 1237.4L1779.6 1217.0L1774.0 1194.5L1770.1 1174.2L1767.2 1152.7L1766.4 1142.0Z" fill="#33FF00" fill-rule="evenodd"/>
<path d="M1786.8 1138.0L2066.0 1138.0L2066.0 1370.0L1855.3 1370.0L1855.3 1366.0L1837.3 1320.9L1825.0 1288.2L1814.7 1258.8L1806.2 1232.0L1798.8 1205.2L1793.2 1180.6L1788.4 1153.8L1786.7 1142.0Z" fill="#88FF00" fill-rule="evenodd"/>
<path d="M1805.9 1138.0L2066.0 1138.0L2066.0 1370.0L1878.6 1370.0L1878.6 1366.0L1874.6 1355.3L1865.4 1331.8L1836.8 1262.0L1827.9 1238.5L1821.0 1218.1L1814.3 1194.5L1809.2 1172.0L1806.9 1158.1L1805.3 1145.2L1805.0 1138.0Z" fill="#AAFF00" fill-rule="evenodd"/>
<path d="M1823.8 1138.0L2066.0 1138.0L2066.0 1370.0L1906.6 1370.0L1906.6 1366.0L1895.7 1347.8L1885.6 1329.7L1876.6 1312.7L1867.6 1294.5L1855.3 1266.8L1845.6 1241.7L1840.7 1227.0L1836.2 1212.1L1832.4 1197.7L1829.2 1183.8L1825.9 1165.6L1823.6 1149.5L1822.8 1142.0L1822.8 1138.0Z" fill="#CCFF00" fill-rule="evenodd"/>
<path d="M1839.6 1138.0L2066.0 1138.0L2066.0 1370.0L1959.2 1370.0L1959.2 1366.0L1922.1 1322.1L1908.6 1304.9L1896.0 1287.8L1879.7 1263.1L1872.7 1251.3L1866.4 1239.5L1859.2 1224.5L1853.8 1211.7L1849.3 1198.8L1845.5 1185.9L1842.3 1172.0L1840.1 1158.1L1838.7 1142.0L1838.7 1138.0Z" fill="#E5FF00" fill-rule="evenodd"/>
<path d="M1854.2 1138.0L2066.0 1138.0L2066.0 1370.0L1993.5 1370.0L1993.5 1366.0L1940.7 1310.9L1927.2 1296.1L1915.3 1282.4L1897.8 1259.9L1890.3 1249.2L1883.6 1238.5L1876.4 1225.6L1870.1 1212.7L1865.3 1200.9L1861.1 1188.1L1857.8 1175.2L1855.6 1162.4L1854.2 1148.4Z" fill="#FFFF00" fill-rule="evenodd"/>
<path d="M1867.6 1138.0L2066.0 1138.0L2066.0 1336.1L2047.4 1335.9L2030.5 1333.8L2013.7 1329.9L1996.8 1324.0L1989.0 1320.6L1980.0 1316.0L1964.3 1306.4L1949.7 1295.4L1935.1 1282.2L1921.5 1267.4L1908.3 1250.2L1896.9 1232.1L1887.4 1213.8L1879.4 1194.5L1875.7 1183.8L1872.7 1173.1L1869.7 1160.2L1867.7 1148.4L1866.9 1142.0L1866.9 1138.0Z" fill="#FFD500" fill-rule="evenodd"/>
<path d="M1880.0 1138.0L2066.0 1138.0L2066.0 1296.2L2046.3 1297.2L2030.5 1296.6L2013.7 1294.1L1998.0 1290.1L1982.2 1284.4L1966.5 1276.7L1951.9 1267.7L1937.3 1256.5L1923.8 1243.6L1912.6 1230.5L1902.5 1215.8L1894.6 1201.4L1887.9 1185.3L1885.3 1177.4L1882.8 1167.7L1880.9 1158.1L1879.7 1148.4L1879.3 1138.0Z" fill="#FFBB00" fill-rule="evenodd"/>
<path d="M1891.2 1138.0L2066.0 1138.0L2066.0 1254.9L2062.0 1254.9L2045.1 1257.7L2031.7 1258.5L2017.1 1258.1L2001.3 1256.1L1985.6 1252.4L1971.0 1247.5L1957.5 1241.3L1944.0 1233.3L1931.7 1224.0L1921.6 1214.4L1912.6 1203.7L1904.5 1191.3L1901.2 1184.9L1898.0 1177.5L1893.4 1163.4L1891.5 1153.8L1890.4 1145.2L1890.1 1138.0Z" fill="#FFA500" fill-rule="evenodd"/>
<path d="M1902.5 1138.0L2066.0 1138.0L2066.0 1207.9L2062.0 1207.9L2046.4 1214.9L2031.7 1219.8L2019.3 1222.8L2007.0 1224.6L1993.5 1225.1L1981.1 1224.1L1969.9 1221.8L1958.6 1217.9L1951.9 1214.7L1946.3 1211.6L1935.1 1203.6L1925.5 1194.5L1917.1 1184.1L1910.3 1172.7L1907.6 1166.7L1905.2 1160.2L1903.2 1152.7L1901.9 1145.2L1901.6 1138.0Z" fill="#FF9000" fill-rule="evenodd"/>
<path d="M1913.7 1138.0L2034.4 1138.0L2034.4 1142.0L2031.7 1153.1L2029.5 1159.1L2026.6 1165.6L2020.3 1176.3L2016.1 1181.7L2012.2 1185.9L2008.1 1189.8L2003.6 1193.2L1999.1 1196.1L1994.6 1198.3L1990.1 1200.1L1984.5 1201.5L1980.0 1202.1L1974.4 1202.2L1968.8 1201.7L1963.1 1200.4L1956.4 1198.2L1950.8 1195.7L1945.2 1192.5L1940.3 1189.2L1935.1 1184.9L1930.6 1180.6L1926.1 1175.4L1922.7 1170.7L1919.3 1165.0L1916.7 1159.1L1914.8 1153.5L1913.6 1147.4L1913.1 1138.0Z" fill="#FF7700" fill-rule="evenodd"/>
<path d="M1926.1 1138.0L2003.3 1138.0L2003.3 1142.0L2004.5 1147.4L2005.1 1153.8L2004.6 1160.2L2003.2 1165.6L2000.4 1170.9L1996.8 1175.0L1991.9 1178.4L1985.6 1180.9L1978.9 1182.2L1972.1 1182.3L1964.3 1181.3L1956.4 1179.2L1949.7 1176.3L1942.9 1172.3L1937.3 1167.8L1932.5 1162.4L1929.2 1157.0L1926.7 1150.6L1925.7 1144.1L1925.6 1138.0Z" fill="#FF5500" fill-rule="evenodd"/>
<path d="M1942.9 1138.0L1996.9 1138.0L1997.4 1147.4L1996.8 1152.0L1995.2 1155.9L1992.3 1159.7L1989.0 1162.4L1984.5 1164.6L1978.9 1166.2L1973.2 1166.8L1966.5 1166.5L1960.9 1165.5L1955.3 1163.5L1951.2 1161.3L1947.4 1158.3L1944.6 1154.9L1942.9 1151.6L1941.8 1147.4L1941.9 1138.0Z" fill="#FF3300" fill-rule="evenodd"/>
</g>
<line x1="1434.6" y1="1142" x2="1434.6" y2="1366" stroke="#000" stroke-width="1.2"/>
<rect x="1433.1" y="1111" width="93.9" height="31.8" fill="#000"/>
<rect x="1726.2" y="1111" width="92.6" height="31.8" fill="#000"/>
<rect x="1967.9" y="1111" width="93.9" height="31.8" fill="#000"/>
<rect x="1434.5" y="1374.2" width="628.2" height="227.2" fill="#AE00FF" stroke="#2F5597" stroke-width="4.4"/>
<line x1="1433.6" y1="1369.8" x2="2063.5" y2="1369.8" stroke="#000" stroke-width="9.5" stroke-linecap="round"/>
<line x1="1434.1" y1="1366.4" x2="2063" y2="1366.4" stroke="#8a8a8a" stroke-width="1.6" stroke-linecap="round"/>
<text x="1493" y="1426.1" font-size="36.5" fill="#FFF">thermal boundary layer</text>
<polygon points="1882.41,1414.2 1925.02,1392.42 1921.19,1384.94 1946.7,1386.5 1933.03,1408.09 1929.21,1400.61 1886.59,1422.4" fill="#FFF"/>
<text x="2101.7" y="1101.5" font-size="37" text-anchor="end">446K</text>
<text x="2101.7" y="1672.5" font-size="37" text-anchor="end">333K</text>
<rect x="1364.7" y="1039.9" width="779.6" height="649.8" fill="none" stroke="#000" stroke-width="4.4"/>
<path d="M1435.57 1689.7V1677.7M1435.57 1039.9V1051.9M1577.32 1689.7V1677.7M1577.32 1039.9V1051.9M1719.06 1689.7V1677.7M1719.06 1039.9V1051.9M1860.81 1689.7V1677.7M1860.81 1039.9V1051.9M2002.55 1689.7V1677.7M2002.55 1039.9V1051.9M1506.45 1689.7V1683.2M1506.45 1039.9V1046.4M1648.19 1689.7V1683.2M1648.19 1039.9V1046.4M1789.94 1689.7V1683.2M1789.94 1039.9V1046.4M1931.68 1689.7V1683.2M1931.68 1039.9V1046.4M2073.43 1689.7V1683.2M2073.43 1039.9V1046.4M1364.7 1148.2H1376.7M2144.3 1148.2H2132.3M1364.7 1256.5H1376.7M2144.3 1256.5H2132.3M1364.7 1364.8H1376.7M2144.3 1364.8H2132.3M1364.7 1473.1H1376.7M2144.3 1473.1H2132.3M1364.7 1581.4H1376.7M2144.3 1581.4H2132.3M1364.7 1094.05H1371.2M2144.3 1094.05H2137.8M1364.7 1202.35H1371.2M2144.3 1202.35H2137.8M1364.7 1310.65H1371.2M2144.3 1310.65H2137.8M1364.7 1418.95H1371.2M2144.3 1418.95H2137.8M1364.7 1527.25H1371.2M2144.3 1527.25H2137.8M1364.7 1635.55H1371.2M2144.3 1635.55H2137.8" stroke="#000" stroke-width="4.4" fill="none"/>
<line x1="2126.5" y1="1074.2" x2="2140.8" y2="1074.2" stroke="#FF88FF" stroke-width="1.2" stroke-dasharray="1.5 2.6"/><rect x="2125" y="1076.6" width="16.8" height="13.76" fill="#FF0000"/><rect x="2125" y="1093.96" width="16.8" height="13.76" fill="#FF3300"/><rect x="2125" y="1111.33" width="16.8" height="13.76" fill="#FF5500"/><rect x="2125" y="1128.69" width="16.8" height="13.76" fill="#FF7700"/><rect x="2125" y="1146.06" width="16.8" height="13.76" fill="#FF9000"/><rect x="2125" y="1163.42" width="16.8" height="13.76" fill="#FFA500"/><rect x="2125" y="1180.79" width="16.8" height="13.76" fill="#FFBB00"/><rect x="2125" y="1198.15" width="16.8" height="13.76" fill="#FFD500"/><rect x="2125" y="1215.52" width="16.8" height="13.76" fill="#FFFF00"/><rect x="2125" y="1232.88" width="16.8" height="13.76" fill="#E5FF00"/><rect x="2125" y="1250.25" width="16.8" height="13.76" fill="#CCFF00"/><rect x="2125" y="1267.61" width="16.8" height="13.76" fill="#AAFF00"/><rect x="2125" y="1284.98" width="16.8" height="13.76" fill="#88FF00"/><rect x="2125" y="1302.34" width="16.8" height="13.76" fill="#33FF00"/><rect x="2125" y="1319.71" width="16.8" height="13.76" fill="#00FF66"/><rect x="2125" y="1337.07" width="16.8" height="13.76" fill="#00FF80"/><rect x="2125" y="1354.44" width="16.8" height="13.76" fill="#00FF99"/><rect x="2125" y="1371.8" width="16.8" height="13.76" fill="#00FFBB"/><rect x="2125" y="1389.16" width="16.8" height="13.76" fill="#00FFDD"/><rect x="2125" y="1406.53" width="16.8" height="13.76" fill="#00FFFF"/><rect x="2125" y="1423.89" width="16.8" height="13.76" fill="#00E5FF"/><rect x="2125" y="1441.26" width="16.8" height="13.76" fill="#00CCFF"/><rect x="2125" y="1458.62" width="16.8" height="13.76" fill="#00AAFF"/><rect x="2125" y="1475.99" width="16.8" height="13.76" fill="#0095FF"/><rect x="2125" y="1493.35" width="16.8" height="13.76" fill="#0080FF"/><rect x="2125" y="1510.72" width="16.8" height="13.76" fill="#0066FF"/><rect x="2125" y="1528.08" width="16.8" height="13.76" fill="#0000FF"/><rect x="2125" y="1545.45" width="16.8" height="13.76" fill="#5500FF"/><rect x="2125" y="1562.81" width="16.8" height="13.76" fill="#7000FF"/><rect x="2125" y="1580.18" width="16.8" height="13.76" fill="#8800FF"/><rect x="2125" y="1597.54" width="16.8" height="13.76" fill="#A000FF"/><rect x="2125" y="1614.91" width="16.8" height="13.76" fill="#C000FF"/><rect x="2125" y="1632.27" width="16.8" height="13.76" fill="#E000FF"/><rect x="2125" y="1649.64" width="16.8" height="13.76" fill="#FF00FF"/>
<text x="1435.57" y="1731.2" font-size="37" text-anchor="middle">0</text>
<text x="1577.32" y="1731.2" font-size="37" text-anchor="middle">2</text>
<text x="1719.06" y="1731.2" font-size="37" text-anchor="middle">4</text>
<text x="1860.81" y="1731.2" font-size="37" text-anchor="middle">6</text>
<text x="2002.55" y="1731.2" font-size="37" text-anchor="middle">8</text>
<text x="2144.3" y="1731.2" font-size="37" text-anchor="middle">10</text>
<text x="1349.7" y="1050.7" font-size="37" text-anchor="end">−1</text>
<text x="1349.7" y="1159" font-size="37" text-anchor="end">0</text>
<text x="1349.7" y="1267.3" font-size="37" text-anchor="end">1</text>
<text x="1349.7" y="1375.6" font-size="37" text-anchor="end">2</text>
<text x="1349.7" y="1483.9" font-size="37" text-anchor="end">3</text>
<text x="1349.7" y="1592.2" font-size="37" text-anchor="end">4</text>
<text x="1349.7" y="1700.5" font-size="37" text-anchor="end">5</text>
<text x="1753.5" y="1809.4" font-size="46.1" text-anchor="middle">Horizontal Dimension (μm)</text>
<text x="1215.5" y="1365.1" font-size="46.5" text-anchor="middle" transform="rotate(-90 1215.5 1365.1)">Vertical Dimension (μm)</text>
<text x="1492" y="1014.7" font-size="36.7">κ<tspan font-size="24" dy="8.3">TBL</tspan><tspan dy="-8.3">=0.1 W/(m·K) κ</tspan><tspan font-size="24" dy="8.3">D</tspan><tspan dy="-8.3">=100 W/(m·K)</tspan></text>
<text x="1234.7" y="980.5" font-size="54.5" text-anchor="middle">(d)</text>
<clipPath id="clipE"><rect x="195.8" y="1949.9" width="779.3" height="650.2"/></clipPath>
<g clip-path="url(#clipE)">
<polyline points="214.35,1994.49 234.77,2006.1 255.18,2021.42 288.57,2039.53 310.84,2050.68 344.24,2065.54 366.5,2074.37 399.9,2086.91 422.17,2095.73 455.57,2105.48 475.98,2112.91 511.23,2121.74 531.64,2129.17 566.9,2138.92 589.16,2144.5 589.16,2197.44 589.16,2294.51 589.16,2353.95 589.16,2409.68 591.02,2412.01 624.41,2421.76 646.68,2427.8 680.08,2436.62 702.35,2442.19 733.89,2451.02 756.15,2456.59 791.41,2467.27 811.82,2472.85 847.07,2479.81 867.48,2484.92 900.88,2494.21 923.15,2499.78 956.55,2508.61" fill="none" stroke="#515151" stroke-width="2.4" stroke-linejoin="round"/>
<rect x="206.6" y="1986.74" width="15.5" height="15.5" fill="#515151"/><rect x="227.02" y="1998.35" width="15.5" height="15.5" fill="#515151"/><rect x="247.43" y="2013.67" width="15.5" height="15.5" fill="#515151"/><rect x="280.82" y="2031.78" width="15.5" height="15.5" fill="#515151"/><rect x="303.09" y="2042.93" width="15.5" height="15.5" fill="#515151"/><rect x="336.49" y="2057.79" width="15.5" height="15.5" fill="#515151"/><rect x="358.75" y="2066.62" width="15.5" height="15.5" fill="#515151"/><rect x="392.15" y="2079.16" width="15.5" height="15.5" fill="#515151"/><rect x="414.42" y="2087.98" width="15.5" height="15.5" fill="#515151"/><rect x="447.82" y="2097.73" width="15.5" height="15.5" fill="#515151"/><rect x="468.23" y="2105.16" width="15.5" height="15.5" fill="#515151"/><rect x="503.48" y="2113.99" width="15.5" height="15.5" fill="#515151"/><rect x="523.89" y="2121.42" width="15.5" height="15.5" fill="#515151"/><rect x="559.15" y="2131.17" width="15.5" height="15.5" fill="#515151"/><rect x="581.41" y="2136.75" width="15.5" height="15.5" fill="#515151"/><rect x="581.41" y="2189.69" width="15.5" height="15.5" fill="#515151"/><rect x="581.41" y="2286.76" width="15.5" height="15.5" fill="#515151"/><rect x="581.41" y="2346.2" width="15.5" height="15.5" fill="#515151"/><rect x="581.41" y="2401.93" width="15.5" height="15.5" fill="#515151"/><rect x="583.27" y="2404.26" width="15.5" height="15.5" fill="#515151"/><rect x="616.66" y="2414.01" width="15.5" height="15.5" fill="#515151"/><rect x="638.93" y="2420.05" width="15.5" height="15.5" fill="#515151"/><rect x="672.33" y="2428.87" width="15.5" height="15.5" fill="#515151"/><rect x="694.6" y="2434.44" width="15.5" height="15.5" fill="#515151"/><rect x="726.14" y="2443.27" width="15.5" height="15.5" fill="#515151"/><rect x="748.4" y="2448.84" width="15.5" height="15.5" fill="#515151"/><rect x="783.66" y="2459.52" width="15.5" height="15.5" fill="#515151"/><rect x="804.07" y="2465.1" width="15.5" height="15.5" fill="#515151"/><rect x="839.32" y="2472.06" width="15.5" height="15.5" fill="#515151"/><rect x="859.73" y="2477.17" width="15.5" height="15.5" fill="#515151"/><rect x="893.13" y="2486.46" width="15.5" height="15.5" fill="#515151"/><rect x="915.4" y="2492.03" width="15.5" height="15.5" fill="#515151"/><rect x="948.8" y="2500.86" width="15.5" height="15.5" fill="#515151"/><rect x="197.35" y="1986.99" width="15" height="15" fill="#515151"/><rect x="200.85" y="1986.99" width="15" height="15" fill="#515151"/><rect x="204.35" y="1986.99" width="15" height="15" fill="#515151"/><rect x="207.85" y="1986.99" width="15" height="15" fill="#515151"/><rect x="211.35" y="1986.99" width="15" height="15" fill="#515151"/><rect x="952.3" y="2500.86" width="15.5" height="15.5" fill="#515151"/>
<polyline points="214.35,2165.86 234.77,2176.54 255.18,2186.76 288.57,2201.16 310.84,2209.98 344.24,2222.52 366.5,2230.41 399.9,2241.56 422.17,2247.6 455.57,2257.82 475.98,2264.78 511.23,2274.54 531.64,2280.57 566.9,2290.33 589.16,2294.97 589.16,2314.94 589.16,2358.6 591.02,2391.11 624.41,2399 646.68,2405.97 680.08,2416.19 702.35,2422.69 733.89,2432.44 756.15,2438.48 791.41,2448.7 811.82,2454.27 847.07,2463.56 867.48,2469.13 900.88,2478.42 923.15,2484.46 956.55,2495.14" fill="none" stroke="#F14040" stroke-width="2.4" stroke-linejoin="round"/>
<circle cx="214.35" cy="2165.86" r="8.53" fill="#F14040"/><circle cx="234.77" cy="2176.54" r="8.53" fill="#F14040"/><circle cx="255.18" cy="2186.76" r="8.53" fill="#F14040"/><circle cx="288.57" cy="2201.16" r="8.53" fill="#F14040"/><circle cx="310.84" cy="2209.98" r="8.53" fill="#F14040"/><circle cx="344.24" cy="2222.52" r="8.53" fill="#F14040"/><circle cx="366.5" cy="2230.41" r="8.53" fill="#F14040"/><circle cx="399.9" cy="2241.56" r="8.53" fill="#F14040"/><circle cx="422.17" cy="2247.6" r="8.53" fill="#F14040"/><circle cx="455.57" cy="2257.82" r="8.53" fill="#F14040"/><circle cx="475.98" cy="2264.78" r="8.53" fill="#F14040"/><circle cx="511.23" cy="2274.54" r="8.53" fill="#F14040"/><circle cx="531.64" cy="2280.57" r="8.53" fill="#F14040"/><circle cx="566.9" cy="2290.33" r="8.53" fill="#F14040"/><circle cx="589.16" cy="2294.97" r="8.53" fill="#F14040"/><circle cx="589.16" cy="2314.94" r="8.53" fill="#F14040"/><circle cx="589.16" cy="2358.6" r="8.53" fill="#F14040"/><circle cx="591.02" cy="2391.11" r="8.53" fill="#F14040"/><circle cx="624.41" cy="2399" r="8.53" fill="#F14040"/><circle cx="646.68" cy="2405.97" r="8.53" fill="#F14040"/><circle cx="680.08" cy="2416.19" r="8.53" fill="#F14040"/><circle cx="702.35" cy="2422.69" r="8.53" fill="#F14040"/><circle cx="733.89" cy="2432.44" r="8.53" fill="#F14040"/><circle cx="756.15" cy="2438.48" r="8.53" fill="#F14040"/><circle cx="791.41" cy="2448.7" r="8.53" fill="#F14040"/><circle cx="811.82" cy="2454.27" r="8.53" fill="#F14040"/><circle cx="847.07" cy="2463.56" r="8.53" fill="#F14040"/><circle cx="867.48" cy="2469.13" r="8.53" fill="#F14040"/><circle cx="900.88" cy="2478.42" r="8.53" fill="#F14040"/><circle cx="923.15" cy="2484.46" r="8.53" fill="#F14040"/><circle cx="956.55" cy="2495.14" r="8.53" fill="#F14040"/><circle cx="204.85" cy="2165.86" r="8.25" fill="#F14040"/><circle cx="208.35" cy="2165.86" r="8.25" fill="#F14040"/><circle cx="211.85" cy="2165.86" r="8.25" fill="#F14040"/><circle cx="215.35" cy="2165.86" r="8.25" fill="#F14040"/><circle cx="218.85" cy="2165.86" r="8.25" fill="#F14040"/><circle cx="960.05" cy="2495.14" r="8.53" fill="#F14040"/>
<polyline points="214.35,2210.91 234.77,2218.34 255.18,2228.56 288.57,2241.56 310.84,2250.39 344.24,2262 366.5,2267.1 399.9,2278.72 422.17,2284.29 455.57,2294.97 475.98,2300.54 511.23,2312.15 531.64,2318.19 566.9,2326.55 589.16,2333.98 589.16,2358.6 589.16,2377.17 591.02,2386.46 624.41,2394.82 646.68,2402.25 680.08,2412.47 702.35,2418.97 733.89,2429.19 756.15,2435.23 791.41,2445.45 811.82,2451.02 847.07,2460.31 867.48,2466.34 900.88,2475.63 923.15,2481.67 956.55,2491.89" fill="none" stroke="#1A6FDF" stroke-width="2.4" stroke-linejoin="round"/>
<polygon points="214.35,2200.45 224.29,2217.19 204.42,2217.19" fill="#1A6FDF"/><polygon points="234.77,2207.88 244.7,2224.62 224.83,2224.62" fill="#1A6FDF"/><polygon points="255.18,2218.09 265.11,2234.83 245.24,2234.83" fill="#1A6FDF"/><polygon points="288.57,2231.1 298.51,2247.84 278.63,2247.84" fill="#1A6FDF"/><polygon points="310.84,2239.92 320.78,2256.66 300.9,2256.66" fill="#1A6FDF"/><polygon points="344.24,2251.53 354.18,2268.27 334.3,2268.27" fill="#1A6FDF"/><polygon points="366.5,2256.64 376.44,2273.38 356.56,2273.38" fill="#1A6FDF"/><polygon points="399.9,2268.25 409.84,2284.99 389.96,2284.99" fill="#1A6FDF"/><polygon points="422.17,2273.83 432.11,2290.57 412.23,2290.57" fill="#1A6FDF"/><polygon points="455.57,2284.51 465.51,2301.25 445.63,2301.25" fill="#1A6FDF"/><polygon points="475.98,2290.08 485.92,2306.82 466.04,2306.82" fill="#1A6FDF"/><polygon points="511.23,2301.69 521.17,2318.43 501.29,2318.43" fill="#1A6FDF"/><polygon points="531.64,2307.73 541.58,2324.47 521.7,2324.47" fill="#1A6FDF"/><polygon points="566.9,2316.09 576.83,2332.83 556.96,2332.83" fill="#1A6FDF"/><polygon points="589.16,2323.52 599.1,2340.26 579.22,2340.26" fill="#1A6FDF"/><polygon points="589.16,2348.13 599.1,2364.87 579.22,2364.87" fill="#1A6FDF"/><polygon points="589.16,2366.71 599.1,2383.45 579.22,2383.45" fill="#1A6FDF"/><polygon points="591.02,2376 600.96,2392.74 581.08,2392.74" fill="#1A6FDF"/><polygon points="624.41,2384.36 634.35,2401.1 614.48,2401.1" fill="#1A6FDF"/><polygon points="646.68,2391.79 656.62,2408.53 636.74,2408.53" fill="#1A6FDF"/><polygon points="680.08,2402.01 690.02,2418.75 670.14,2418.75" fill="#1A6FDF"/><polygon points="702.35,2408.51 712.28,2425.25 692.41,2425.25" fill="#1A6FDF"/><polygon points="733.89,2418.73 743.83,2435.47 723.95,2435.47" fill="#1A6FDF"/><polygon points="756.15,2424.77 766.09,2441.51 746.21,2441.51" fill="#1A6FDF"/><polygon points="791.41,2434.98 801.35,2451.72 781.47,2451.72" fill="#1A6FDF"/><polygon points="811.82,2440.56 821.76,2457.3 801.88,2457.3" fill="#1A6FDF"/><polygon points="847.07,2449.84 857.01,2466.58 837.13,2466.58" fill="#1A6FDF"/><polygon points="867.48,2455.88 877.42,2472.62 857.54,2472.62" fill="#1A6FDF"/><polygon points="900.88,2465.17 910.82,2481.91 890.94,2481.91" fill="#1A6FDF"/><polygon points="923.15,2471.21 933.09,2487.95 913.21,2487.95" fill="#1A6FDF"/><polygon points="956.55,2481.43 966.48,2498.17 946.61,2498.17" fill="#1A6FDF"/><polygon points="204.85,2200.78 214.47,2216.98 195.24,2216.98" fill="#1A6FDF"/><polygon points="208.35,2200.78 217.97,2216.98 198.74,2216.98" fill="#1A6FDF"/><polygon points="211.85,2200.78 221.47,2216.98 202.24,2216.98" fill="#1A6FDF"/><polygon points="215.35,2200.78 224.97,2216.98 205.74,2216.98" fill="#1A6FDF"/><polygon points="218.85,2200.78 228.47,2216.98 209.24,2216.98" fill="#1A6FDF"/><polygon points="960.05,2481.43 969.98,2498.17 950.11,2498.17" fill="#1A6FDF"/>
<polyline points="214.35,2264.78 234.77,2266.18 255.18,2277.79 288.57,2288.93 310.84,2296.36 344.24,2303.79 366.5,2309.37 399.9,2320.98 422.17,2326.55 455.57,2335.38 475.98,2340.02 511.23,2347.92 531.64,2352.56 566.9,2362.31 589.16,2366.03 589.16,2390.64 591.02,2395.75 624.41,2409.68 646.68,2415.26 680.08,2425.47 702.35,2431.05 733.89,2440.34 756.15,2445.45 791.41,2455.2 811.82,2460.31 847.07,2469.13 867.48,2474.24 900.88,2483.06 923.15,2488.64 956.55,2501.18" fill="none" stroke="#37AD6B" stroke-width="2.4" stroke-linejoin="round"/>
<polygon points="214.35,2275.25 224.29,2258.51 204.42,2258.51" fill="#37AD6B"/><polygon points="234.77,2276.64 244.7,2259.9 224.83,2259.9" fill="#37AD6B"/><polygon points="255.18,2288.25 265.11,2271.51 245.24,2271.51" fill="#37AD6B"/><polygon points="288.57,2299.4 298.51,2282.66 278.63,2282.66" fill="#37AD6B"/><polygon points="310.84,2306.83 320.78,2290.09 300.9,2290.09" fill="#37AD6B"/><polygon points="344.24,2314.26 354.18,2297.52 334.3,2297.52" fill="#37AD6B"/><polygon points="366.5,2319.83 376.44,2303.09 356.56,2303.09" fill="#37AD6B"/><polygon points="399.9,2331.44 409.84,2314.7 389.96,2314.7" fill="#37AD6B"/><polygon points="422.17,2337.01 432.11,2320.27 412.23,2320.27" fill="#37AD6B"/><polygon points="455.57,2345.84 465.51,2329.1 445.63,2329.1" fill="#37AD6B"/><polygon points="475.98,2350.48 485.92,2333.74 466.04,2333.74" fill="#37AD6B"/><polygon points="511.23,2358.38 521.17,2341.64 501.29,2341.64" fill="#37AD6B"/><polygon points="531.64,2363.02 541.58,2346.28 521.7,2346.28" fill="#37AD6B"/><polygon points="566.9,2372.78 576.83,2356.04 556.96,2356.04" fill="#37AD6B"/><polygon points="589.16,2376.49 599.1,2359.75 579.22,2359.75" fill="#37AD6B"/><polygon points="589.16,2401.11 599.1,2384.37 579.22,2384.37" fill="#37AD6B"/><polygon points="591.02,2406.21 600.96,2389.47 581.08,2389.47" fill="#37AD6B"/><polygon points="624.41,2420.15 634.35,2403.41 614.48,2403.41" fill="#37AD6B"/><polygon points="646.68,2425.72 656.62,2408.98 636.74,2408.98" fill="#37AD6B"/><polygon points="680.08,2435.94 690.02,2419.2 670.14,2419.2" fill="#37AD6B"/><polygon points="702.35,2441.51 712.28,2424.77 692.41,2424.77" fill="#37AD6B"/><polygon points="733.89,2450.8 743.83,2434.06 723.95,2434.06" fill="#37AD6B"/><polygon points="756.15,2455.91 766.09,2439.17 746.21,2439.17" fill="#37AD6B"/><polygon points="791.41,2465.66 801.35,2448.92 781.47,2448.92" fill="#37AD6B"/><polygon points="811.82,2470.77 821.76,2454.03 801.88,2454.03" fill="#37AD6B"/><polygon points="847.07,2479.59 857.01,2462.85 837.13,2462.85" fill="#37AD6B"/><polygon points="867.48,2484.7 877.42,2467.96 857.54,2467.96" fill="#37AD6B"/><polygon points="900.88,2493.53 910.82,2476.79 890.94,2476.79" fill="#37AD6B"/><polygon points="923.15,2499.1 933.09,2482.36 913.21,2482.36" fill="#37AD6B"/><polygon points="956.55,2511.64 966.48,2494.9 946.61,2494.9" fill="#37AD6B"/><polygon points="204.85,2274.91 214.47,2258.71 195.24,2258.71" fill="#37AD6B"/><polygon points="208.35,2274.91 217.97,2258.71 198.74,2258.71" fill="#37AD6B"/><polygon points="211.85,2274.91 221.47,2258.71 202.24,2258.71" fill="#37AD6B"/><polygon points="215.35,2274.91 224.97,2258.71 205.74,2258.71" fill="#37AD6B"/><polygon points="218.85,2274.91 228.47,2258.71 209.24,2258.71" fill="#37AD6B"/><polygon points="960.05,2511.64 969.98,2494.9 950.11,2494.9" fill="#37AD6B"/>
<polyline points="214.35,2016.31 234.77,2030.25 255.18,2046.5 288.57,2068.33 310.84,2079.94 344.24,2097.12 366.5,2105.95 399.9,2119.88 422.17,2128.7 455.57,2140.78 475.98,2148.68 511.23,2158.89 531.64,2166.79 566.9,2176.54 589.16,2183.51 589.16,2249.46 589.16,2369.74 589.16,2519.29 591.02,2519.75 624.41,2520.22 646.68,2521.61 680.08,2522.08 702.35,2522.54 733.89,2523 756.15,2523.47 791.41,2523.93 811.82,2524.4 847.07,2524.86 867.48,2525.33 900.88,2525.79 923.15,2525.79 956.55,2525.79" fill="none" stroke="#B177DE" stroke-width="2.4" stroke-linejoin="round"/>
<polygon points="214.35,2005.46 225.2,2016.31 214.35,2027.16 203.5,2016.31" fill="#B177DE"/><polygon points="234.77,2019.4 245.62,2030.25 234.77,2041.1 223.92,2030.25" fill="#B177DE"/><polygon points="255.18,2035.65 266.03,2046.5 255.18,2057.35 244.33,2046.5" fill="#B177DE"/><polygon points="288.57,2057.48 299.42,2068.33 288.57,2079.18 277.72,2068.33" fill="#B177DE"/><polygon points="310.84,2069.09 321.69,2079.94 310.84,2090.79 299.99,2079.94" fill="#B177DE"/><polygon points="344.24,2086.27 355.09,2097.12 344.24,2107.97 333.39,2097.12" fill="#B177DE"/><polygon points="366.5,2095.1 377.35,2105.95 366.5,2116.8 355.65,2105.95" fill="#B177DE"/><polygon points="399.9,2109.03 410.75,2119.88 399.9,2130.73 389.05,2119.88" fill="#B177DE"/><polygon points="422.17,2117.86 433.02,2128.7 422.17,2139.55 411.32,2128.7" fill="#B177DE"/><polygon points="455.57,2129.93 466.42,2140.78 455.57,2151.63 444.72,2140.78" fill="#B177DE"/><polygon points="475.98,2137.83 486.83,2148.68 475.98,2159.53 465.13,2148.68" fill="#B177DE"/><polygon points="511.23,2148.04 522.08,2158.89 511.23,2169.74 500.38,2158.89" fill="#B177DE"/><polygon points="531.64,2155.94 542.49,2166.79 531.64,2177.64 520.79,2166.79" fill="#B177DE"/><polygon points="566.9,2165.69 577.75,2176.54 566.9,2187.39 556.05,2176.54" fill="#B177DE"/><polygon points="589.16,2172.66 600.01,2183.51 589.16,2194.36 578.31,2183.51" fill="#B177DE"/><polygon points="589.16,2238.61 600.01,2249.46 589.16,2260.31 578.31,2249.46" fill="#B177DE"/><polygon points="589.16,2358.89 600.01,2369.74 589.16,2380.59 578.31,2369.74" fill="#B177DE"/><polygon points="589.16,2508.44 600.01,2519.29 589.16,2530.14 578.31,2519.29" fill="#B177DE"/><polygon points="591.02,2508.9 601.87,2519.75 591.02,2530.6 580.17,2519.75" fill="#B177DE"/><polygon points="624.41,2509.37 635.26,2520.22 624.41,2531.07 613.56,2520.22" fill="#B177DE"/><polygon points="646.68,2510.76 657.53,2521.61 646.68,2532.46 635.83,2521.61" fill="#B177DE"/><polygon points="680.08,2511.23 690.93,2522.08 680.08,2532.93 669.23,2522.08" fill="#B177DE"/><polygon points="702.35,2511.69 713.2,2522.54 702.35,2533.39 691.5,2522.54" fill="#B177DE"/><polygon points="733.89,2512.15 744.74,2523 733.89,2533.85 723.04,2523" fill="#B177DE"/><polygon points="756.15,2512.62 767,2523.47 756.15,2534.32 745.3,2523.47" fill="#B177DE"/><polygon points="791.41,2513.08 802.26,2523.93 791.41,2534.78 780.56,2523.93" fill="#B177DE"/><polygon points="811.82,2513.55 822.67,2524.4 811.82,2535.25 800.97,2524.4" fill="#B177DE"/><polygon points="847.07,2514.01 857.92,2524.86 847.07,2535.71 836.22,2524.86" fill="#B177DE"/><polygon points="867.48,2514.48 878.33,2525.33 867.48,2536.18 856.63,2525.33" fill="#B177DE"/><polygon points="900.88,2514.94 911.73,2525.79 900.88,2536.64 890.03,2525.79" fill="#B177DE"/><polygon points="923.15,2514.94 934,2525.79 923.15,2536.64 912.3,2525.79" fill="#B177DE"/><polygon points="956.55,2514.94 967.4,2525.79 956.55,2536.64 945.7,2525.79" fill="#B177DE"/><polygon points="204.85,2005.81 215.35,2016.31 204.85,2026.81 194.35,2016.31" fill="#B177DE"/><polygon points="208.35,2005.81 218.85,2016.31 208.35,2026.81 197.85,2016.31" fill="#B177DE"/><polygon points="211.85,2005.81 222.35,2016.31 211.85,2026.81 201.35,2016.31" fill="#B177DE"/><polygon points="215.35,2005.81 225.85,2016.31 215.35,2026.81 204.85,2016.31" fill="#B177DE"/><polygon points="218.85,2005.81 229.35,2016.31 218.85,2026.81 208.35,2016.31" fill="#B177DE"/><polygon points="960.05,2514.94 970.9,2525.79 960.05,2536.64 949.2,2525.79" fill="#B177DE"/>
<polyline points="214.35,2166.32 234.77,2179.33 255.18,2196.51 288.57,2217.41 310.84,2231.34 344.24,2249.92 366.5,2260.14 399.9,2276.39 422.17,2284.29 455.57,2299.61 475.98,2307.97 511.23,2322.37 531.64,2330.73 566.9,2344.2 589.16,2351.63 589.16,2378.57 589.16,2437.55 591.02,2489.57 624.41,2490.96 646.68,2491.42 680.08,2491.89 702.35,2492.35 733.89,2492.82 756.15,2493.28 791.41,2493.75 811.82,2494.21 847.07,2494.67 867.48,2495.14 900.88,2496.07 923.15,2497 956.55,2498.39" fill="none" stroke="#CC9900" stroke-width="2.4" stroke-linejoin="round"/>
<polygon points="203.89,2166.32 220.63,2156.38 220.63,2176.26" fill="#CC9900"/><polygon points="224.3,2179.33 241.04,2169.39 241.04,2189.27" fill="#CC9900"/><polygon points="244.71,2196.51 261.45,2186.57 261.45,2206.45" fill="#CC9900"/><polygon points="278.11,2217.41 294.85,2207.47 294.85,2227.35" fill="#CC9900"/><polygon points="300.38,2231.34 317.12,2221.4 317.12,2241.28" fill="#CC9900"/><polygon points="333.78,2249.92 350.52,2239.98 350.52,2259.86" fill="#CC9900"/><polygon points="356.04,2260.14 372.78,2250.2 372.78,2270.08" fill="#CC9900"/><polygon points="389.44,2276.39 406.18,2266.45 406.18,2286.33" fill="#CC9900"/><polygon points="411.71,2284.29 428.45,2274.35 428.45,2294.23" fill="#CC9900"/><polygon points="445.1,2299.61 461.84,2289.68 461.84,2309.55" fill="#CC9900"/><polygon points="465.51,2307.97 482.25,2298.04 482.25,2317.91" fill="#CC9900"/><polygon points="500.77,2322.37 517.51,2312.43 517.51,2332.31" fill="#CC9900"/><polygon points="521.18,2330.73 537.92,2320.79 537.92,2340.67" fill="#CC9900"/><polygon points="556.43,2344.2 573.17,2334.26 573.17,2354.14" fill="#CC9900"/><polygon points="578.7,2351.63 595.44,2341.69 595.44,2361.57" fill="#CC9900"/><polygon points="578.7,2378.57 595.44,2368.63 595.44,2388.51" fill="#CC9900"/><polygon points="578.7,2437.55 595.44,2427.61 595.44,2447.49" fill="#CC9900"/><polygon points="580.55,2489.57 597.29,2479.63 597.29,2499.51" fill="#CC9900"/><polygon points="613.95,2490.96 630.69,2481.02 630.69,2500.9" fill="#CC9900"/><polygon points="636.22,2491.42 652.96,2481.48 652.96,2501.36" fill="#CC9900"/><polygon points="669.62,2491.89 686.36,2481.95 686.36,2501.83" fill="#CC9900"/><polygon points="691.88,2492.35 708.62,2482.41 708.62,2502.29" fill="#CC9900"/><polygon points="723.43,2492.82 740.17,2482.88 740.17,2502.76" fill="#CC9900"/><polygon points="745.69,2493.28 762.43,2483.34 762.43,2503.22" fill="#CC9900"/><polygon points="780.95,2493.75 797.69,2483.81 797.69,2503.69" fill="#CC9900"/><polygon points="801.36,2494.21 818.1,2484.27 818.1,2504.15" fill="#CC9900"/><polygon points="836.61,2494.67 853.35,2484.74 853.35,2504.61" fill="#CC9900"/><polygon points="857.02,2495.14 873.76,2485.2 873.76,2505.08" fill="#CC9900"/><polygon points="890.42,2496.07 907.16,2486.13 907.16,2506.01" fill="#CC9900"/><polygon points="912.68,2497 929.42,2487.06 929.42,2506.94" fill="#CC9900"/><polygon points="946.08,2498.39 962.82,2488.45 962.82,2508.33" fill="#CC9900"/><polygon points="194.73,2166.32 210.93,2156.7 210.93,2175.94" fill="#CC9900"/><polygon points="198.23,2166.32 214.43,2156.7 214.43,2175.94" fill="#CC9900"/><polygon points="201.73,2166.32 217.93,2156.7 217.93,2175.94" fill="#CC9900"/><polygon points="205.23,2166.32 221.43,2156.7 221.43,2175.94" fill="#CC9900"/><polygon points="208.73,2166.32 224.93,2156.7 224.93,2175.94" fill="#CC9900"/><polygon points="949.58,2498.39 966.32,2488.45 966.32,2508.33" fill="#CC9900"/>
<polyline points="214.35,2235.99 234.77,2248.53 255.18,2266.18 288.57,2286.15 310.84,2294.97 344.24,2306.58 366.5,2316.8 399.9,2332.59 422.17,2340.95 455.57,2357.2 475.98,2364.17 511.23,2378.57 531.64,2386 566.9,2399 589.16,2407.36 589.16,2432.91 589.16,2460.77 589.16,2474.7 591.02,2483.99 624.41,2484.92 646.68,2485.39 680.08,2485.85 702.35,2486.32 733.89,2486.78 756.15,2487.24 791.41,2487.71 811.82,2488.17 847.07,2488.64 867.48,2489.1 900.88,2490.49 923.15,2491.89 956.55,2493.28" fill="none" stroke="#00CBCC" stroke-width="2.4" stroke-linejoin="round"/>
<polygon points="224.82,2235.99 208.08,2226.05 208.08,2245.93" fill="#00CBCC"/><polygon points="245.23,2248.53 228.49,2238.59 228.49,2258.47" fill="#00CBCC"/><polygon points="265.64,2266.18 248.9,2256.24 248.9,2276.12" fill="#00CBCC"/><polygon points="299.04,2286.15 282.3,2276.21 282.3,2296.09" fill="#00CBCC"/><polygon points="321.3,2294.97 304.56,2285.03 304.56,2304.91" fill="#00CBCC"/><polygon points="354.7,2306.58 337.96,2296.64 337.96,2316.52" fill="#00CBCC"/><polygon points="376.97,2316.8 360.23,2306.86 360.23,2326.74" fill="#00CBCC"/><polygon points="410.36,2332.59 393.62,2322.65 393.62,2342.53" fill="#00CBCC"/><polygon points="432.63,2340.95 415.89,2331.01 415.89,2350.89" fill="#00CBCC"/><polygon points="466.03,2357.2 449.29,2347.26 449.29,2367.14" fill="#00CBCC"/><polygon points="486.44,2364.17 469.7,2354.23 469.7,2374.11" fill="#00CBCC"/><polygon points="521.69,2378.57 504.95,2368.63 504.95,2388.51" fill="#00CBCC"/><polygon points="542.1,2386 525.36,2376.06 525.36,2395.94" fill="#00CBCC"/><polygon points="577.36,2399 560.62,2389.06 560.62,2408.94" fill="#00CBCC"/><polygon points="599.62,2407.36 582.88,2397.42 582.88,2417.3" fill="#00CBCC"/><polygon points="599.62,2432.91 582.88,2422.97 582.88,2442.85" fill="#00CBCC"/><polygon points="599.62,2460.77 582.88,2450.83 582.88,2470.71" fill="#00CBCC"/><polygon points="599.62,2474.7 582.88,2464.76 582.88,2484.64" fill="#00CBCC"/><polygon points="601.48,2483.99 584.74,2474.05 584.74,2493.93" fill="#00CBCC"/><polygon points="634.88,2484.92 618.14,2474.98 618.14,2494.86" fill="#00CBCC"/><polygon points="657.14,2485.39 640.4,2475.45 640.4,2495.33" fill="#00CBCC"/><polygon points="690.54,2485.85 673.8,2475.91 673.8,2495.79" fill="#00CBCC"/><polygon points="712.81,2486.32 696.07,2476.38 696.07,2496.25" fill="#00CBCC"/><polygon points="744.35,2486.78 727.61,2476.84 727.61,2496.72" fill="#00CBCC"/><polygon points="766.62,2487.24 749.88,2477.3 749.88,2497.18" fill="#00CBCC"/><polygon points="801.87,2487.71 785.13,2477.77 785.13,2497.65" fill="#00CBCC"/><polygon points="822.28,2488.17 805.54,2478.23 805.54,2498.11" fill="#00CBCC"/><polygon points="857.53,2488.64 840.79,2478.7 840.79,2498.58" fill="#00CBCC"/><polygon points="877.94,2489.1 861.2,2479.16 861.2,2499.04" fill="#00CBCC"/><polygon points="911.34,2490.49 894.6,2480.56 894.6,2500.43" fill="#00CBCC"/><polygon points="933.61,2491.89 916.87,2481.95 916.87,2501.83" fill="#00CBCC"/><polygon points="967.01,2493.28 950.27,2483.34 950.27,2503.22" fill="#00CBCC"/><polygon points="214.98,2235.99 198.78,2226.37 198.78,2245.61" fill="#00CBCC"/><polygon points="218.48,2235.99 202.28,2226.37 202.28,2245.61" fill="#00CBCC"/><polygon points="221.98,2235.99 205.78,2226.37 205.78,2245.61" fill="#00CBCC"/><polygon points="225.48,2235.99 209.28,2226.37 209.28,2245.61" fill="#00CBCC"/><polygon points="228.98,2235.99 212.78,2226.37 212.78,2245.61" fill="#00CBCC"/><polygon points="970.51,2493.28 953.77,2483.34 953.77,2503.22" fill="#00CBCC"/>
<polyline points="214.35,2225.77 234.77,2238.31 255.18,2255.96 288.57,2278.72 310.84,2292.18 344.24,2310.3 366.5,2320.98 399.9,2338.16 422.17,2347.92 455.57,2364.17 475.98,2372.99 511.23,2387.39 531.64,2397.61 566.9,2411.54 589.16,2421.76 589.16,2431.98 589.16,2450.55 589.16,2463.56 591.02,2473.78 624.41,2475.17 646.68,2475.63 680.08,2476.56 702.35,2477.03 733.89,2477.49 756.15,2478.42 791.41,2478.88 811.82,2479.35 847.07,2480.28 867.48,2481.21 900.88,2482.14 923.15,2483.06 956.55,2483.99" fill="none" stroke="#7D4E4E" stroke-width="2.4" stroke-linejoin="round"/>
<polygon points="222.07,2230.23 214.35,2234.68 206.64,2230.23 206.64,2221.31 214.35,2216.86 222.07,2221.31" fill="#7D4E4E"/><polygon points="242.48,2242.77 234.77,2247.22 227.05,2242.77 227.05,2233.85 234.77,2229.4 242.48,2233.85" fill="#7D4E4E"/><polygon points="262.89,2260.41 255.18,2264.87 247.46,2260.41 247.46,2251.5 255.18,2247.05 262.89,2251.5" fill="#7D4E4E"/><polygon points="296.29,2283.17 288.57,2287.63 280.86,2283.17 280.86,2274.26 288.57,2269.8 296.29,2274.26" fill="#7D4E4E"/><polygon points="318.56,2296.64 310.84,2301.1 303.12,2296.64 303.12,2287.73 310.84,2283.27 318.56,2287.73" fill="#7D4E4E"/><polygon points="351.96,2314.75 344.24,2319.21 336.52,2314.75 336.52,2305.84 344.24,2301.38 351.96,2305.84" fill="#7D4E4E"/><polygon points="374.22,2325.43 366.5,2329.89 358.79,2325.43 358.79,2316.52 366.5,2312.07 374.22,2316.52" fill="#7D4E4E"/><polygon points="407.62,2342.62 399.9,2347.07 392.18,2342.62 392.18,2333.71 399.9,2329.25 407.62,2333.71" fill="#7D4E4E"/><polygon points="429.89,2352.37 422.17,2356.83 414.45,2352.37 414.45,2343.46 422.17,2339 429.89,2343.46" fill="#7D4E4E"/><polygon points="463.29,2368.63 455.57,2373.08 447.85,2368.63 447.85,2359.71 455.57,2355.26 463.29,2359.71" fill="#7D4E4E"/><polygon points="483.7,2377.45 475.98,2381.91 468.26,2377.45 468.26,2368.54 475.98,2364.08 483.7,2368.54" fill="#7D4E4E"/><polygon points="518.95,2391.85 511.23,2396.3 503.51,2391.85 503.51,2382.94 511.23,2378.48 518.95,2382.94" fill="#7D4E4E"/><polygon points="539.36,2402.07 531.64,2406.52 523.92,2402.07 523.92,2393.15 531.64,2388.7 539.36,2393.15" fill="#7D4E4E"/><polygon points="574.61,2416 566.9,2420.45 559.18,2416 559.18,2407.09 566.9,2402.63 574.61,2407.09" fill="#7D4E4E"/><polygon points="596.88,2426.22 589.16,2430.67 581.44,2426.22 581.44,2417.3 589.16,2412.85 596.88,2417.3" fill="#7D4E4E"/><polygon points="596.88,2436.43 589.16,2440.89 581.44,2436.43 581.44,2427.52 589.16,2423.06 596.88,2427.52" fill="#7D4E4E"/><polygon points="596.88,2455.01 589.16,2459.47 581.44,2455.01 581.44,2446.1 589.16,2441.64 596.88,2446.1" fill="#7D4E4E"/><polygon points="596.88,2468.01 589.16,2472.47 581.44,2468.01 581.44,2459.1 589.16,2454.65 596.88,2459.1" fill="#7D4E4E"/><polygon points="598.73,2478.23 591.02,2482.69 583.3,2478.23 583.3,2469.32 591.02,2464.86 598.73,2469.32" fill="#7D4E4E"/><polygon points="632.13,2479.62 624.41,2484.08 616.7,2479.62 616.7,2470.71 624.41,2466.26 632.13,2470.71" fill="#7D4E4E"/><polygon points="654.4,2480.09 646.68,2484.55 638.96,2480.09 638.96,2471.18 646.68,2466.72 654.4,2471.18" fill="#7D4E4E"/><polygon points="687.8,2481.02 680.08,2485.47 672.36,2481.02 672.36,2472.11 680.08,2467.65 687.8,2472.11" fill="#7D4E4E"/><polygon points="710.06,2481.48 702.35,2485.94 694.63,2481.48 694.63,2472.57 702.35,2468.11 710.06,2472.57" fill="#7D4E4E"/><polygon points="741.61,2481.95 733.89,2486.4 726.17,2481.95 726.17,2473.03 733.89,2468.58 741.61,2473.03" fill="#7D4E4E"/><polygon points="763.87,2482.88 756.15,2487.33 748.44,2482.88 748.44,2473.96 756.15,2469.51 763.87,2473.96" fill="#7D4E4E"/><polygon points="799.13,2483.34 791.41,2487.8 783.69,2483.34 783.69,2474.43 791.41,2469.97 799.13,2474.43" fill="#7D4E4E"/><polygon points="819.54,2483.8 811.82,2488.26 804.1,2483.8 804.1,2474.89 811.82,2470.44 819.54,2474.89" fill="#7D4E4E"/><polygon points="854.79,2484.73 847.07,2489.19 839.35,2484.73 839.35,2475.82 847.07,2471.36 854.79,2475.82" fill="#7D4E4E"/><polygon points="875.2,2485.66 867.48,2490.12 859.76,2485.66 859.76,2476.75 867.48,2472.29 875.2,2476.75" fill="#7D4E4E"/><polygon points="908.6,2486.59 900.88,2491.05 893.16,2486.59 893.16,2477.68 900.88,2473.22 908.6,2477.68" fill="#7D4E4E"/><polygon points="930.87,2487.52 923.15,2491.98 915.43,2487.52 915.43,2478.61 923.15,2474.15 930.87,2478.61" fill="#7D4E4E"/><polygon points="964.26,2488.45 956.55,2492.91 948.83,2488.45 948.83,2479.54 956.55,2475.08 964.26,2479.54" fill="#7D4E4E"/><polygon points="212.32,2230.08 204.85,2234.4 197.39,2230.08 197.39,2221.46 204.85,2217.15 212.32,2221.46" fill="#7D4E4E"/><polygon points="215.82,2230.08 208.35,2234.4 200.89,2230.08 200.89,2221.46 208.35,2217.15 215.82,2221.46" fill="#7D4E4E"/><polygon points="219.32,2230.08 211.85,2234.4 204.39,2230.08 204.39,2221.46 211.85,2217.15 219.32,2221.46" fill="#7D4E4E"/><polygon points="222.82,2230.08 215.35,2234.4 207.89,2230.08 207.89,2221.46 215.35,2217.15 222.82,2221.46" fill="#7D4E4E"/><polygon points="226.32,2230.08 218.85,2234.4 211.39,2230.08 211.39,2221.46 218.85,2217.15 226.32,2221.46" fill="#7D4E4E"/><polygon points="967.76,2488.45 960.05,2492.91 952.33,2488.45 952.33,2479.54 960.05,2475.08 967.76,2479.54" fill="#7D4E4E"/>
</g>
<line x1="589.16" y1="1949.9" x2="589.16" y2="2600.1" stroke="#808080" stroke-width="4.2"/>
<rect x="195.8" y="1949.9" width="779.3" height="650.2" fill="none" stroke="#000" stroke-width="4.4"/>
<path d="M214.35 2600.1V2588.1M214.35 1949.9V1961.9M307.13 2600.1V2588.1M307.13 1949.9V1961.9M399.9 2600.1V2588.1M399.9 1949.9V1961.9M492.68 2600.1V2588.1M492.68 1949.9V1961.9M585.45 2600.1V2588.1M585.45 1949.9V1961.9M678.22 2600.1V2588.1M678.22 1949.9V1961.9M771 2600.1V2588.1M771 1949.9V1961.9M863.77 2600.1V2588.1M863.77 1949.9V1961.9M956.55 2600.1V2588.1M956.55 1949.9V1961.9M260.74 2600.1V2593.6M260.74 1949.9V1956.4M353.52 2600.1V2593.6M353.52 1949.9V1956.4M446.29 2600.1V2593.6M446.29 1949.9V1956.4M539.06 2600.1V2593.6M539.06 1949.9V1956.4M631.84 2600.1V2593.6M631.84 1949.9V1956.4M724.61 2600.1V2593.6M724.61 1949.9V1956.4M817.38 2600.1V2593.6M817.38 1949.9V1956.4M910.16 2600.1V2593.6M910.16 1949.9V1956.4M195.8 2507.21H207.8M975.1 2507.21H963.1M195.8 2414.33H207.8M975.1 2414.33H963.1M195.8 2321.44H207.8M975.1 2321.44H963.1M195.8 2228.56H207.8M975.1 2228.56H963.1M195.8 2135.67H207.8M975.1 2135.67H963.1M195.8 2042.79H207.8M975.1 2042.79H963.1M195.8 2553.66H202.3M975.1 2553.66H968.6M195.8 2460.77H202.3M975.1 2460.77H968.6M195.8 2367.89H202.3M975.1 2367.89H968.6M195.8 2275H202.3M975.1 2275H968.6M195.8 2182.11H202.3M975.1 2182.11H968.6M195.8 2089.23H202.3M975.1 2089.23H968.6M195.8 1996.34H202.3M975.1 1996.34H968.6" stroke="#000" stroke-width="4.4" fill="none"/>
<text x="214.35" y="2641.6" font-size="37" text-anchor="middle">0.0</text>
<text x="307.13" y="2641.6" font-size="37" text-anchor="middle">0.5</text>
<text x="399.9" y="2641.6" font-size="37" text-anchor="middle">1.0</text>
<text x="492.68" y="2641.6" font-size="37" text-anchor="middle">1.5</text>
<text x="585.45" y="2641.6" font-size="37" text-anchor="middle">2.0</text>
<text x="678.22" y="2641.6" font-size="37" text-anchor="middle">2.5</text>
<text x="771" y="2641.6" font-size="37" text-anchor="middle">3.0</text>
<text x="863.77" y="2641.6" font-size="37" text-anchor="middle">3.5</text>
<text x="956.55" y="2641.6" font-size="37" text-anchor="middle">4.0</text>
<text x="181.5" y="2610.9" font-size="37" text-anchor="end">320</text>
<text x="181.5" y="2518.01" font-size="37" text-anchor="end">340</text>
<text x="181.5" y="2425.13" font-size="37" text-anchor="end">360</text>
<text x="181.5" y="2332.24" font-size="37" text-anchor="end">380</text>
<text x="181.5" y="2239.36" font-size="37" text-anchor="end">400</text>
<text x="181.5" y="2146.47" font-size="37" text-anchor="end">420</text>
<text x="181.5" y="2053.59" font-size="37" text-anchor="end">440</text>
<text x="181.5" y="1960.7" font-size="37" text-anchor="end">460</text>
<text x="572" y="2028.9" font-size="36" text-anchor="middle" transform="rotate(-90 572 2028.9)">GaN</text>
<text x="627.1" y="2040.6" font-size="36.5" text-anchor="middle" transform="rotate(-90 627.1 2040.6)">Diamond</text>
<text x="584.7" y="2719.3" font-size="46.3" text-anchor="middle">Vertical Dimension (μm)</text>
<text x="44.5" y="2271.1" font-size="45.8" text-anchor="middle" transform="rotate(-90 44.5 2271.1)">Temperature (K)</text>
<text x="65.4" y="1889.4" font-size="54.5" text-anchor="middle">(e)</text>
<polyline points="1442.48,2483.07 1598.44,2212.74 1832.38,2073.84 2066.32,2073.84" fill="none" stroke="#515151" stroke-width="3.6" stroke-linejoin="round"/>
<rect x="1430.73" y="2471.32" width="23.5" height="23.5" fill="#515151"/><rect x="1586.69" y="2200.99" width="23.5" height="23.5" fill="#515151"/><rect x="1820.63" y="2062.09" width="23.5" height="23.5" fill="#515151"/><rect x="2054.57" y="2062.09" width="23.5" height="23.5" fill="#515151"/>
<polyline points="1442.48,2558.21 1598.44,2240.07 1832.38,2128.49 2066.32,2107.02" fill="none" stroke="#F14040" stroke-width="3.6" stroke-linejoin="round"/>
<rect x="1430.73" y="2546.46" width="23.5" height="23.5" fill="#F14040"/><rect x="1586.69" y="2228.32" width="23.5" height="23.5" fill="#F14040"/><rect x="1820.63" y="2116.74" width="23.5" height="23.5" fill="#F14040"/><rect x="2054.57" y="2095.27" width="23.5" height="23.5" fill="#F14040"/>
<rect x="1364.5" y="1949.9" width="779.8" height="650.6" fill="none" stroke="#000" stroke-width="4.4"/>
<path d="M1520.46 2600.5V2588.5M1520.46 1949.9V1961.9M1676.42 2600.5V2588.5M1676.42 1949.9V1961.9M1832.38 2600.5V2588.5M1832.38 1949.9V1961.9M1988.34 2600.5V2588.5M1988.34 1949.9V1961.9M1442.48 2600.5V2594M1442.48 1949.9V1956.4M1598.44 2600.5V2594M1598.44 1949.9V1956.4M1754.4 2600.5V2594M1754.4 1949.9V1956.4M1910.36 2600.5V2594M1910.36 1949.9V1956.4M2066.32 2600.5V2594M2066.32 1949.9V1956.4M1364.5 2437.85H1376.5M2144.3 2437.85H2132.3M1364.5 2275.2H1376.5M2144.3 2275.2H2132.3M1364.5 2112.55H1376.5M2144.3 2112.55H2132.3M1364.5 2519.18H1371M2144.3 2519.18H2137.8M1364.5 2356.53H1371M2144.3 2356.53H2137.8M1364.5 2193.88H1371M2144.3 2193.88H2137.8M1364.5 2031.22H1371M2144.3 2031.22H2137.8" stroke="#000" stroke-width="4.4" fill="none"/>
<text x="1364.5" y="2642" font-size="37" text-anchor="middle">0.0</text>
<text x="1520.46" y="2642" font-size="37" text-anchor="middle">0.2</text>
<text x="1676.42" y="2642" font-size="37" text-anchor="middle">0.4</text>
<text x="1832.38" y="2642" font-size="37" text-anchor="middle">0.6</text>
<text x="1988.34" y="2642" font-size="37" text-anchor="middle">0.8</text>
<text x="2144.3" y="2642" font-size="37" text-anchor="middle">1.0</text>
<text x="1350.2" y="2611.3" font-size="37" text-anchor="end">700</text>
<text x="1350.2" y="2448.65" font-size="37" text-anchor="end">750</text>
<text x="1350.2" y="2286" font-size="37" text-anchor="end">800</text>
<text x="1350.2" y="2123.35" font-size="37" text-anchor="end">850</text>
<text x="1350.2" y="1960.7" font-size="37" text-anchor="end">900</text>
<line x1="1770" y1="2393.6" x2="1834" y2="2393.6" stroke="#515151" stroke-width="3.6"/>
<rect x="1790.25" y="2381.85" width="23.5" height="23.5" fill="#515151"/>
<text x="1842" y="2402.2" font-size="27.6">κ<tspan font-size="17.3" dy="7.6">D</tspan><tspan dy="-7.6">=1500 W/(m·K)</tspan></text>
<line x1="1770" y1="2434.2" x2="1834" y2="2434.2" stroke="#F14040" stroke-width="3.6"/>
<rect x="1790.25" y="2422.45" width="23.5" height="23.5" fill="#F14040"/>
<text x="1842" y="2442.8" font-size="27.6">κ<tspan font-size="17.3" dy="7.6">D</tspan><tspan dy="-7.6">=100 W/(m·K)</tspan></text>
<text x="1602" y="2709.3" font-size="46.5">κ<tspan font-size="30" dy="12.5">TBL</tspan><tspan dy="-12.5"> (W/(m·K))</tspan></text>
<text x="1218.5" y="2269.4" font-size="44.8" text-anchor="middle" transform="rotate(-90 1218.5 2269.4)">Mobility (cm<tspan font-size="30" dy="-17">2</tspan><tspan dy="17">/(V·s))</tspan></text>
<text x="1234.6" y="1889" font-size="54.5" text-anchor="middle">(f)</text>
</svg></body></html>
